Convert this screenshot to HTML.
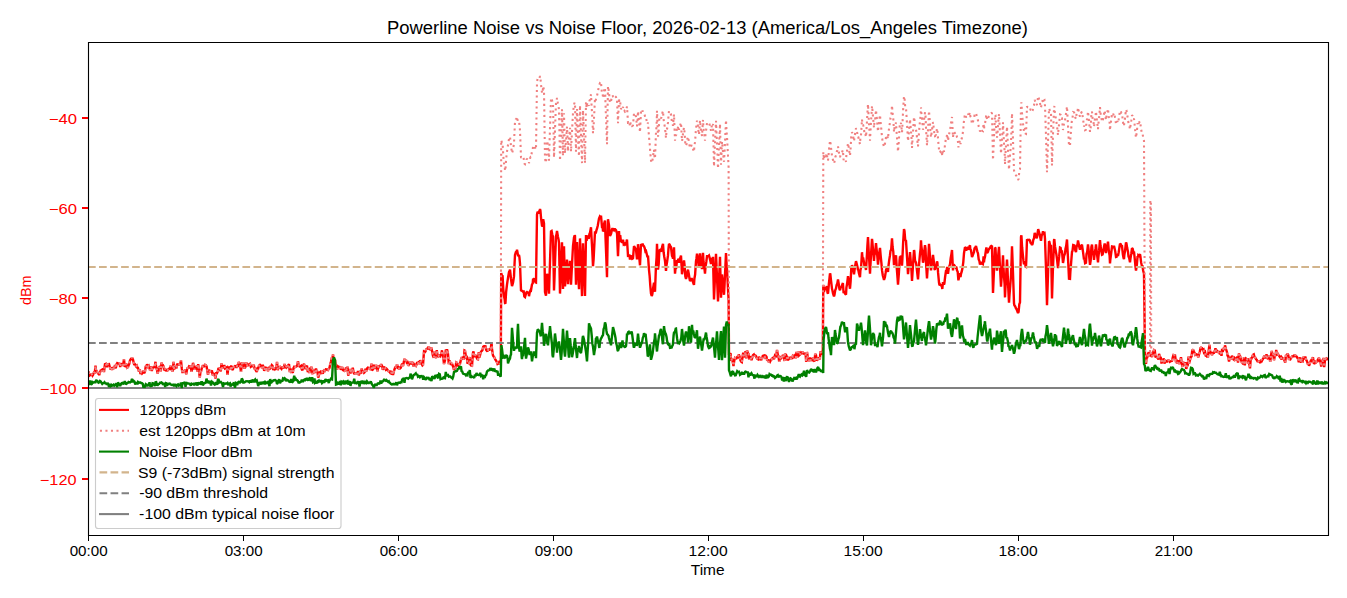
<!DOCTYPE html><html><head><meta charset="utf-8"><style>html,body{margin:0;padding:0;background:#fff;}svg{display:block;}</style></head><body><svg width="1347" height="598" viewBox="0 0 1347 598">
<rect x="0" y="0" width="1347" height="598" fill="#ffffff"/>
<defs><clipPath id="ax"><rect x="88.5" y="42.5" width="1240.0" height="493.0"/></clipPath></defs>
<g clip-path="url(#ax)" fill="none" stroke-linejoin="miter" stroke-miterlimit="2">
<path d="M88.0 373.4L88.8 372.9L89.5 375.6L90.2 375.1L91.0 374.2L91.8 374.3L92.5 375.7L93.0 375.0L94.0 372.4L94.8 372.5L95.5 365.5L96.2 372.4L97.0 371.6L98.0 373.4L98.5 373.4L99.2 375.1L100.0 372.3L101.0 369.8L101.5 371.5L102.2 369.7L103.0 368.6L104.0 372.0L104.5 367.7L105.0 364.2L106.0 363.8L106.8 367.1L107.5 364.3L108.2 364.1L109.0 364.0L110.0 367.7L110.5 369.5L111.2 367.3L112.0 370.0L112.8 367.2L113.5 368.0L114.2 368.8L115.0 365.1L115.8 368.3L116.5 364.4L117.2 363.1L118.0 363.6L119.0 363.6L119.5 363.0L120.2 367.0L121.0 363.5L121.8 364.5L122.5 364.5L123.0 365.7L124.0 359.3L124.8 367.0L125.5 365.8L126.2 363.6L127.0 367.7L128.0 367.1L128.5 365.5L129.2 364.2L130.0 360.5L130.8 359.2L131.5 358.7L132.0 357.5L133.0 359.7L134.0 363.9L134.5 363.7L135.2 364.4L136.0 366.2L136.8 365.6L137.5 367.9L138.0 368.0L139.0 371.7L139.8 369.1L140.5 374.1L141.0 372.1L142.0 373.6L142.8 372.7L143.5 370.6L144.2 373.2L145.0 371.4L145.8 365.9L146.5 366.6L147.0 364.2L148.0 366.7L148.8 365.8L149.5 367.8L150.0 370.2L151.0 366.1L151.8 371.0L152.5 367.7L153.0 367.7L154.0 367.2L154.8 366.5L155.5 361.8L156.2 367.4L157.0 369.9L157.8 373.7L158.5 368.0L159.2 367.2L160.0 366.2L160.8 371.4L161.5 362.5L162.0 365.8L163.0 365.3L163.8 366.9L164.5 370.5L165.2 368.5L166.0 371.1L166.8 370.1L167.5 370.4L168.2 369.3L169.0 368.7L170.0 368.9L170.5 365.8L171.2 368.3L172.0 370.4L172.8 371.3L173.5 361.9L174.2 369.5L175.0 365.2L175.8 366.9L176.5 368.3L177.2 363.6L178.0 364.7L178.8 364.7L179.5 364.5L180.0 365.0L181.0 360.4L181.8 368.7L182.5 373.1L183.0 370.9L184.0 371.1L184.8 370.6L185.5 371.6L186.2 374.3L187.0 369.5L187.8 367.3L188.5 368.3L189.2 366.1L190.0 366.3L190.8 366.9L191.5 371.8L192.2 368.9L193.0 362.8L193.8 366.2L194.5 369.7L195.0 367.7L196.0 368.0L196.8 365.6L197.5 371.5L198.2 364.1L199.0 370.9L199.8 377.6L200.5 371.0L201.2 370.8L202.0 367.3L203.0 365.3L203.5 366.2L204.2 366.2L205.0 364.8L205.8 365.2L206.5 366.2L207.0 368.7L208.0 374.7L208.8 370.0L209.5 370.7L210.2 371.4L211.0 371.0L212.0 371.3L212.5 374.5L213.2 374.9L214.0 373.8L215.0 374.4L215.5 378.5L216.2 372.4L217.0 373.0L217.8 371.5L218.5 367.9L219.2 369.0L220.0 368.2L220.8 371.5L221.5 363.3L222.2 368.6L223.0 366.5L223.8 365.9L224.5 365.9L225.0 368.3L226.0 367.7L226.8 367.2L227.5 374.9L228.2 368.3L229.0 367.4L230.0 368.2L230.5 369.1L231.2 365.5L232.0 369.0L232.8 370.0L233.5 367.1L234.2 366.7L235.0 366.1L235.8 366.3L236.5 367.8L237.2 366.0L238.0 366.7L238.8 361.9L239.5 364.6L240.0 365.4L241.0 371.9L241.8 362.3L242.5 365.3L243.2 362.2L244.0 367.8L245.0 367.8L245.5 366.6L246.2 362.2L247.0 366.0L247.8 363.9L248.5 364.9L249.2 364.2L250.0 363.8L250.8 366.8L251.5 366.3L252.2 366.0L253.0 366.3L253.8 364.7L254.5 368.4L255.0 368.4L256.0 370.6L256.8 372.0L257.5 368.4L258.2 368.5L259.0 365.7L260.0 364.8L260.5 365.3L261.2 366.0L262.0 368.1L262.8 364.8L263.5 367.8L264.2 370.8L265.0 368.0L265.8 367.0L266.5 369.5L267.2 367.8L268.0 371.3L268.8 366.9L269.5 369.8L270.0 366.1L271.0 367.0L271.8 365.1L272.5 365.8L273.2 370.0L274.0 367.6L275.0 369.2L275.5 368.6L276.2 368.6L277.0 361.9L277.8 370.1L278.5 367.3L279.2 367.3L280.0 366.8L280.8 368.1L281.5 368.9L282.2 367.3L283.0 367.1L283.8 368.3L284.5 364.0L285.0 366.7L286.0 367.5L286.8 365.4L287.5 368.0L288.2 365.2L289.0 364.2L289.8 372.1L290.5 368.5L291.2 371.7L292.0 371.3L292.8 372.9L293.5 368.1L294.2 366.8L295.0 367.1L296.0 366.6L296.5 366.4L297.2 365.9L298.0 361.2L298.8 365.9L299.5 366.4L300.0 366.6L301.0 365.8L301.8 369.4L302.5 370.4L303.2 365.3L304.0 363.8L305.0 367.2L305.5 369.1L306.2 367.0L307.0 365.7L307.8 372.2L308.5 369.4L309.2 373.1L310.0 368.8L310.8 367.8L311.5 367.8L312.2 374.2L313.0 369.1L313.8 373.1L314.5 370.5L315.0 373.0L316.0 368.5L316.8 371.8L317.5 371.9L318.2 377.6L319.0 375.0L320.0 372.2L320.5 371.8L321.2 372.7L322.0 371.9L322.8 373.7L323.5 371.5L324.2 370.4L325.0 370.8L325.8 369.3L326.5 369.5L327.2 369.4L328.0 370.0L329.0 368.6L329.5 367.8L330.2 364.2L331.0 361.6L331.8 358.0L332.5 357.9L333.0 354.4L334.0 362.9L335.0 359.9L335.5 364.8L336.0 367.5L337.0 369.6L337.8 366.3L338.5 366.8L339.2 366.9L340.0 367.1L340.8 369.5L341.5 368.6L342.2 367.0L343.0 370.0L343.8 370.3L344.5 370.9L345.0 371.5L346.0 367.5L346.8 370.8L347.5 366.7L348.2 375.7L349.0 370.9L350.0 369.4L350.5 373.5L351.2 369.0L352.0 370.8L352.8 367.8L353.5 371.9L354.2 374.0L355.0 372.7L355.8 374.6L356.5 372.8L357.2 374.5L358.0 370.9L358.8 375.4L359.5 373.5L360.0 371.1L361.0 372.0L361.8 368.4L362.5 372.8L363.2 371.0L364.0 372.8L365.0 371.9L365.5 368.8L366.2 371.5L367.0 368.5L367.8 367.6L368.5 367.9L369.0 368.2L370.0 369.0L370.8 367.9L371.5 363.6L372.0 370.4L373.0 369.2L373.8 365.8L374.5 364.9L375.0 369.0L376.0 365.3L376.8 366.3L377.5 371.3L378.2 366.5L379.0 366.9L380.0 365.3L380.5 366.5L381.2 364.2L382.0 365.8L382.8 369.7L383.5 368.2L384.2 367.3L385.0 367.8L385.8 369.6L386.5 368.8L387.2 369.6L388.0 370.8L388.8 371.4L389.5 371.7L390.0 372.4L391.0 371.0L391.8 374.7L392.5 372.2L393.0 375.0L394.0 370.9L395.0 367.8L395.5 366.6L396.2 367.9L397.0 364.3L397.8 367.1L398.5 366.4L399.2 369.4L400.0 368.3L400.8 367.8L401.5 365.5L402.2 363.6L403.0 366.0L403.8 361.9L404.5 358.8L405.0 361.1L406.0 359.9L406.8 362.5L407.5 362.2L408.2 365.9L409.0 364.2L410.0 362.0L410.5 364.6L411.2 361.2L412.0 364.6L413.0 362.0L413.5 366.5L414.2 364.2L415.0 364.6L416.0 365.8L416.5 364.7L417.2 362.1L418.0 363.5L419.0 361.3L419.5 364.4L420.2 360.1L421.0 363.0L421.8 364.1L422.5 365.4L423.0 365.0L424.0 351.6L424.8 352.1L425.5 351.3L426.2 349.3L427.0 348.9L427.8 347.9L428.5 349.2L429.0 346.8L430.0 349.9L430.8 349.0L431.5 348.7L432.0 350.7L433.0 355.8L433.8 357.7L434.5 351.6L435.2 355.7L436.0 358.2L436.8 350.1L437.5 355.9L438.2 356.4L439.0 355.4L440.0 356.2L440.5 354.9L441.2 354.7L442.0 350.3L442.8 356.4L443.5 359.6L444.0 364.0L445.0 360.4L445.8 349.5L446.5 351.4L447.0 349.3L448.0 353.9L448.8 364.1L449.5 360.7L450.0 361.6L451.0 364.9L451.8 363.0L452.5 365.2L453.0 366.1L454.0 370.0L455.0 367.8L455.5 368.3L456.2 362.4L457.0 362.8L457.8 365.5L458.5 365.5L459.0 364.5L460.0 363.8L460.8 360.2L461.5 358.3L462.0 358.6L463.0 357.0L463.8 359.7L464.5 350.5L465.0 350.8L466.0 357.2L466.8 357.0L467.5 363.7L468.0 362.7L469.0 363.7L469.8 357.0L470.5 364.7L471.0 365.5L472.0 365.7L473.0 352.7L473.5 351.5L474.2 357.0L475.0 354.7L476.0 356.0L476.5 357.1L477.2 359.0L478.0 359.3L478.8 352.2L479.5 357.4L480.2 354.4L481.0 351.6L481.8 351.0L482.5 350.0L483.2 346.7L484.0 346.2L484.8 346.2L485.5 346.3L486.2 349.9L487.0 351.0L487.8 350.8L488.5 348.9L489.2 350.3L490.0 349.0L490.8 348.9L491.5 342.4L492.0 348.9L493.0 355.6L494.0 356.9L494.5 357.5L495.2 359.4L496.0 360.4L497.0 362.4L497.5 363.9L498.2 363.5L499.0 362.3L499.8 363.7L500.5 364.1L500.8 363.4L501.2 273.0L502.0 275.9L502.6 276.1L503.3 289.3L504.0 296.0L504.7 299.6L505.0 303.1L505.4 303.8L506.1 292.2L507.0 284.7L507.5 281.1L508.2 276.7L509.0 272.0L509.6 270.7L510.0 269.7L511.0 279.0L511.7 284.1L512.0 286.2L512.4 284.9L513.1 282.2L514.0 276.4L514.5 264.7L515.0 255.0L515.9 252.1L516.6 251.7L517.0 249.7L518.0 255.3L518.7 255.3L519.0 255.0L519.4 257.2L520.0 263.5L521.0 290.3L521.5 290.7L522.2 290.9L523.0 291.7L523.6 290.5L524.3 296.5L525.0 297.1L525.7 294.6L526.4 292.5L527.0 292.0L527.8 292.6L528.5 292.6L529.0 296.2L529.9 291.6L530.6 290.0L531.0 290.3L532.0 284.4L532.7 283.4L533.0 279.6L533.4 279.6L534.1 278.5L535.0 280.7L535.5 282.3L536.0 282.5L537.0 214.7L537.6 211.7L538.3 212.5L539.0 211.9L539.7 210.1L540.0 209.0L540.4 210.5L541.1 218.6L542.0 225.7L542.5 226.2L543.2 219.2L544.0 223.4L544.6 265.1L545.0 292.0L546.0 295.8L546.7 282.2L547.0 273.8L547.4 275.3L548.0 278.8L549.0 293.6L549.5 277.2L550.2 255.5L551.0 231.4L551.6 231.0L552.3 234.6L553.0 236.6L553.7 272.1L554.0 290.4L554.4 280.8L555.1 259.8L556.0 236.1L556.5 234.4L557.0 230.9L557.9 236.5L558.6 239.8L559.0 242.8L560.0 293.6L560.7 275.8L561.4 255.3L562.0 242.2L563.0 288.9L563.5 265.4L564.0 246.3L565.0 286.4L565.6 278.3L566.3 270.6L567.0 259.5L567.7 275.3L568.0 284.3L568.4 277.5L569.1 269.5L570.0 260.8L570.5 272.9L571.0 284.6L571.9 266.6L572.6 253.5L573.0 246.0L574.0 237.4L574.7 235.4L575.0 235.8L575.4 257.4L576.0 284.7L577.0 242.1L577.5 254.4L578.2 272.8L579.0 289.3L579.6 257.9L580.0 238.4L581.0 267.0L581.7 286.6L582.0 296.1L582.4 275.1L583.0 243.3L583.8 263.8L584.5 282.7L585.0 295.9L586.0 235.0L586.6 240.9L587.3 235.5L588.0 236.9L588.7 238.9L589.4 234.1L590.0 232.6L591.0 227.3L591.5 237.0L592.2 248.9L593.0 266.2L593.6 259.5L594.3 245.4L595.0 231.4L595.7 233.4L596.4 230.4L597.0 228.7L597.8 225.5L598.5 221.4L599.0 218.5L599.9 216.3L600.6 217.0L601.0 215.6L602.0 227.1L602.7 227.1L603.0 231.3L603.4 230.7L604.1 223.7L605.0 220.5L605.5 237.2L606.2 255.3L607.0 277.3L607.6 240.8L608.0 219.2L609.0 225.2L609.7 233.6L610.0 235.9L610.4 235.2L611.1 233.6L612.0 229.4L612.5 228.4L613.2 229.8L613.9 230.3L614.6 228.5L615.0 229.2L616.0 230.1L616.7 232.4L617.0 232.2L617.4 242.4L618.0 256.3L619.0 231.0L619.5 239.4L620.2 235.2L621.0 242.1L621.6 241.4L622.3 242.5L623.0 239.8L623.7 244.3L624.4 243.8L625.0 244.7L625.8 244.0L626.5 241.6L627.0 239.5L628.0 255.8L628.6 255.7L629.3 254.5L630.0 259.6L630.7 255.3L631.0 256.6L631.4 257.7L632.1 258.9L633.0 258.3L633.5 252.1L634.0 246.0L634.9 247.5L635.6 248.8L636.0 249.6L637.0 259.3L637.7 251.8L638.0 244.2L638.4 248.9L639.1 255.7L640.0 265.3L640.5 254.4L641.0 244.0L641.9 245.6L642.6 243.7L643.3 245.8L644.0 246.3L644.7 248.1L645.4 251.4L646.0 251.0L646.8 254.3L647.5 257.1L648.0 255.6L649.0 269.8L649.6 275.5L650.3 285.7L651.0 293.5L651.7 295.8L652.0 295.4L652.4 293.8L653.1 288.2L654.0 282.7L654.5 289.6L655.0 291.8L655.9 267.4L656.6 257.1L657.0 243.7L658.0 269.7L658.7 263.8L659.4 250.3L660.0 249.9L661.0 251.5L661.5 250.2L662.2 246.5L663.0 243.9L663.6 252.3L664.3 257.0L665.0 260.8L665.7 267.9L666.0 271.0L666.4 265.7L667.1 261.8L668.0 255.4L668.5 248.7L669.0 243.8L669.9 245.0L670.6 246.7L671.0 247.3L672.0 255.8L672.7 257.1L673.0 258.9L673.4 253.9L674.0 247.3L675.0 273.6L675.5 268.7L676.2 267.9L677.0 260.2L677.6 261.8L678.3 258.9L679.0 262.7L679.7 258.7L680.4 257.8L681.0 255.6L682.0 274.2L682.5 271.2L683.2 264.8L684.0 260.4L684.6 265.7L685.3 276.4L686.0 278.9L686.7 276.5L687.4 271.8L688.0 269.6L688.8 274.0L689.5 278.5L690.0 281.0L690.9 279.7L691.6 278.0L692.0 279.4L693.0 282.0L693.7 284.0L694.0 284.8L694.4 278.7L695.1 274.6L696.0 261.1L696.5 258.2L697.0 253.6L697.9 258.7L698.6 265.5L699.0 267.7L700.0 253.3L700.7 261.2L701.4 265.0L702.0 269.1L703.0 252.7L703.5 261.7L704.2 266.2L705.0 273.7L705.6 266.0L706.3 262.0L707.0 256.1L707.7 256.1L708.4 256.1L709.0 255.5L709.8 258.4L710.5 261.6L711.0 263.9L711.9 257.9L712.6 259.1L713.0 256.9L714.0 299.4L714.7 283.9L715.4 266.8L716.0 253.8L716.8 272.4L717.5 289.3L718.0 301.5L718.9 280.6L719.6 266.7L720.0 256.8L721.0 297.7L721.7 281.0L722.0 274.5L722.4 277.8L723.1 286.5L724.0 294.8L724.5 285.8L725.2 270.3L726.0 253.0L726.6 264.5L727.0 269.5L728.0 288.7L728.6 300.0L729.0 354.0L730.0 354.1L730.5 353.0L731.2 360.8L732.0 358.7L733.0 363.3L733.5 366.0L734.2 361.0L735.0 358.0L735.8 358.5L736.5 358.4L737.2 357.1L738.0 357.3L738.8 354.5L739.5 356.3L740.2 359.7L741.0 361.5L741.8 362.1L742.5 357.4L743.2 352.7L744.0 357.1L744.8 356.0L745.5 351.3L746.2 358.4L747.0 350.3L748.0 353.7L748.5 353.9L749.2 359.8L750.0 356.5L751.0 358.0L751.5 360.3L752.2 357.7L753.0 355.2L753.8 354.5L754.5 356.7L755.0 354.9L756.0 356.2L756.8 358.2L757.5 359.0L758.2 359.3L759.0 357.0L760.0 358.3L760.5 360.3L761.2 358.7L762.0 358.9L762.8 355.9L763.5 355.6L764.2 355.4L765.0 357.1L765.8 356.0L766.5 356.8L767.2 360.7L768.0 359.2L768.8 362.1L769.5 361.1L770.0 361.7L771.0 359.7L771.8 359.3L772.5 358.0L773.2 357.6L774.0 359.1L775.0 355.3L775.5 355.7L776.2 356.1L777.0 350.0L777.8 354.7L778.5 356.0L779.2 361.8L780.0 357.1L780.8 359.3L781.5 356.1L782.2 357.7L783.0 354.8L783.8 357.4L784.5 360.9L785.0 353.9L786.0 354.7L786.8 356.6L787.5 360.5L788.2 357.1L789.0 358.9L790.0 358.0L790.5 359.1L791.2 357.3L792.0 358.9L792.8 356.1L793.5 356.8L794.2 355.8L795.0 357.3L795.8 357.3L796.5 351.8L797.2 357.5L798.0 355.6L798.8 351.5L799.5 355.0L800.0 354.6L801.0 352.8L801.8 353.9L802.5 351.7L803.2 353.2L804.0 353.7L805.0 353.6L805.5 353.0L806.2 361.9L807.0 352.0L807.8 357.3L808.5 359.7L809.0 361.2L810.0 357.6L810.8 360.7L811.5 359.5L812.2 359.9L813.0 357.7L814.0 360.7L814.5 361.5L815.2 353.9L816.0 355.2L816.8 360.7L817.5 358.9L818.0 359.8L819.0 357.4L819.8 359.4L820.5 351.3L821.0 352.3L822.0 353.5L822.8 352.0L823.3 284.9L824.0 292.2L824.7 287.3L825.4 289.1L826.0 288.7L826.8 286.2L827.5 292.6L828.0 293.6L828.9 283.6L829.6 277.2L830.0 273.5L830.3 274.0L831.0 280.4L832.0 288.8L832.4 290.2L833.1 293.6L834.0 296.4L834.5 294.8L835.2 290.3L836.0 288.4L836.6 285.0L837.3 283.5L838.0 279.4L838.7 283.6L839.4 288.9L840.0 290.1L840.8 287.4L841.5 286.8L842.0 285.4L842.9 283.0L843.6 293.1L844.0 291.9L844.3 291.9L845.0 293.5L846.0 294.7L846.4 287.6L847.1 283.8L848.0 276.1L848.5 278.9L849.2 283.7L850.0 288.7L850.6 281.7L851.3 268.2L852.0 265.2L852.7 266.9L853.4 270.8L854.0 274.3L854.8 268.2L855.5 264.0L856.0 261.1L856.9 264.6L857.6 267.5L858.0 270.1L858.3 269.8L859.0 273.5L860.0 277.2L860.4 270.5L861.1 267.2L862.0 252.2L862.5 257.9L863.2 258.2L864.0 262.5L864.6 267.2L865.3 266.6L866.0 270.0L866.7 258.9L867.4 245.8L868.0 237.1L868.8 253.0L869.5 264.9L870.0 273.6L870.9 256.4L871.6 245.7L872.0 238.9L872.3 241.4L873.0 249.6L874.0 260.9L874.4 255.3L875.1 253.1L876.0 243.0L876.5 248.4L877.2 254.9L878.0 264.6L878.6 259.2L879.3 252.7L880.0 247.9L880.7 256.0L881.4 262.8L882.0 270.2L882.8 275.5L883.5 277.9L884.0 279.9L884.9 277.1L885.6 272.9L886.0 270.1L886.3 269.3L887.0 268.1L888.0 271.9L888.4 266.7L889.1 260.9L890.0 255.2L890.5 250.8L891.2 249.6L892.0 238.4L892.6 247.0L893.3 251.8L894.0 265.1L894.7 259.3L895.4 257.8L896.0 255.4L896.8 268.4L897.5 277.5L898.0 284.7L898.9 272.8L899.6 260.1L900.0 256.5L900.3 257.3L901.0 255.9L902.0 265.6L902.4 259.0L903.1 243.2L904.0 229.2L904.5 230.9L905.2 239.8L906.0 240.7L906.6 250.4L907.3 261.8L908.0 274.1L908.7 267.1L909.4 259.8L910.0 252.1L910.8 261.9L911.5 270.8L912.0 281.0L912.9 266.6L913.6 255.8L914.0 250.0L914.3 251.0L915.0 260.4L916.0 262.7L916.4 265.0L917.1 271.6L918.0 279.3L918.5 273.0L919.2 262.6L920.0 253.6L920.6 248.7L921.0 240.2L921.3 245.3L922.0 250.8L923.0 262.6L923.4 261.2L924.1 252.6L925.0 245.2L925.5 248.3L926.2 265.5L927.0 278.5L927.6 268.8L928.3 257.6L929.0 243.9L929.7 252.3L930.4 263.9L931.0 270.4L931.8 264.4L932.5 259.3L933.0 255.0L933.9 262.1L934.6 269.3L935.0 270.0L935.3 266.1L936.0 268.4L937.0 261.3L937.4 262.8L938.1 272.9L939.0 282.5L939.5 285.4L940.2 284.6L941.0 285.7L941.6 284.2L942.3 289.0L943.0 282.2L944.0 284.6L944.4 283.2L945.1 277.0L946.0 270.8L946.5 270.6L947.2 266.9L948.0 273.8L948.6 269.3L949.3 266.3L950.0 264.3L950.7 258.2L951.4 254.1L952.0 250.0L953.0 270.5L953.5 265.3L954.2 265.1L955.0 266.3L955.6 267.3L956.3 266.6L957.0 270.4L957.7 271.8L958.4 280.3L959.0 277.6L959.8 273.3L960.5 277.0L961.0 273.8L961.9 270.9L962.6 267.2L963.0 264.4L963.3 262.1L964.0 253.2L965.0 247.1L965.4 247.6L966.1 250.5L967.0 248.4L967.5 248.7L968.2 246.8L968.9 249.6L969.6 245.9L970.0 245.4L970.3 249.2L971.0 250.3L972.0 257.0L972.4 256.3L973.1 254.4L974.0 251.9L974.5 248.3L975.2 247.7L976.0 246.0L976.6 248.5L977.3 251.3L978.0 253.5L978.7 259.5L979.4 261.0L980.0 264.6L980.8 262.0L981.5 263.3L982.0 263.7L982.9 264.1L983.6 256.4L984.0 262.4L984.3 259.5L985.0 256.8L986.0 249.6L986.4 247.5L987.1 253.0L988.0 251.8L988.5 250.0L989.2 248.7L990.0 248.0L990.6 246.5L991.3 246.0L992.0 246.4L993.0 293.0L993.4 283.8L994.1 268.0L995.0 247.6L995.5 248.2L996.2 263.0L997.0 270.6L997.6 265.3L998.3 254.4L999.0 246.9L999.7 261.5L1000.4 275.0L1001.0 286.7L1001.8 274.9L1002.5 265.0L1003.0 255.4L1003.9 275.5L1004.6 283.8L1005.0 297.4L1005.3 291.0L1006.0 278.1L1007.0 259.6L1007.4 266.5L1008.1 284.9L1009.0 302.7L1009.5 294.8L1010.2 286.3L1011.0 275.7L1011.6 259.8L1012.0 246.4L1012.3 254.1L1013.0 273.1L1014.0 303.3L1014.4 305.4L1015.1 306.1L1016.0 308.5L1016.5 309.0L1017.2 310.8L1018.0 313.0L1018.6 311.9L1019.3 304.3L1020.0 302.4L1021.0 236.9L1021.4 235.4L1022.1 247.2L1023.0 256.4L1023.5 261.0L1024.0 264.4L1024.9 261.1L1025.6 266.6L1026.0 266.8L1026.3 260.0L1027.0 239.4L1027.7 240.2L1028.4 239.9L1029.1 239.8L1030.0 240.5L1030.5 242.8L1031.2 243.2L1032.0 245.1L1032.6 243.8L1033.3 239.8L1034.0 238.3L1034.7 232.9L1035.4 235.1L1036.0 237.0L1036.8 238.2L1037.5 233.7L1038.2 229.2L1039.0 232.0L1039.6 234.1L1040.3 237.6L1041.0 240.8L1041.7 235.3L1042.4 234.3L1043.0 231.3L1043.8 233.5L1044.5 233.1L1045.0 238.9L1045.9 265.5L1046.6 289.5L1047.0 305.2L1047.3 295.8L1048.0 274.6L1049.0 241.4L1049.4 241.8L1050.1 245.2L1051.0 245.9L1051.5 272.1L1052.0 298.5L1052.9 269.3L1053.6 253.3L1054.0 240.2L1054.3 239.1L1055.0 246.4L1056.0 252.4L1056.4 254.6L1057.1 259.8L1058.0 268.1L1058.5 262.2L1059.2 256.2L1060.0 247.5L1060.6 247.8L1061.3 251.6L1062.0 251.5L1063.0 263.0L1063.4 260.8L1064.1 255.7L1065.0 253.5L1065.5 248.8L1066.2 245.8L1067.0 239.5L1067.6 251.1L1068.3 264.0L1069.0 278.7L1070.0 278.9L1070.4 271.3L1071.1 263.0L1072.0 251.8L1072.5 250.9L1073.2 245.1L1074.0 245.3L1074.6 246.6L1075.3 250.5L1076.0 252.0L1076.7 245.6L1077.4 245.5L1078.0 240.5L1078.8 244.5L1079.5 248.0L1080.0 249.8L1080.9 246.5L1081.6 245.2L1082.0 244.7L1082.3 247.1L1083.0 251.7L1084.0 259.5L1084.4 258.6L1085.1 263.2L1086.0 262.7L1086.5 254.0L1087.2 251.9L1088.0 244.4L1088.6 249.6L1089.3 257.6L1090.0 264.8L1090.7 260.3L1091.4 246.9L1092.0 244.5L1092.8 253.8L1093.5 254.9L1094.0 259.8L1094.9 251.9L1095.6 248.2L1096.0 244.3L1096.3 247.6L1097.0 254.2L1098.0 262.3L1098.4 257.0L1099.1 250.7L1100.0 240.2L1100.5 245.8L1101.2 250.0L1102.0 254.7L1102.6 254.4L1103.3 250.7L1104.0 246.8L1104.7 243.5L1105.4 249.2L1106.0 253.1L1106.8 246.1L1107.5 244.4L1108.0 241.7L1108.9 251.5L1109.6 255.6L1110.0 263.4L1110.3 259.8L1111.0 254.5L1112.0 246.5L1112.4 246.6L1113.1 248.1L1114.0 245.9L1114.5 248.0L1115.2 251.1L1116.0 257.0L1116.6 256.8L1117.3 254.1L1118.0 256.0L1118.7 252.2L1119.4 247.5L1120.0 243.6L1120.8 244.3L1121.5 246.0L1122.0 246.1L1122.9 254.5L1123.6 258.1L1124.0 259.2L1124.3 255.3L1125.0 251.1L1126.0 242.5L1126.4 243.2L1127.1 247.6L1128.0 251.9L1128.5 256.4L1129.2 258.0L1130.0 262.4L1130.6 257.7L1131.3 253.5L1132.0 248.2L1132.7 248.9L1133.4 252.2L1134.0 251.7L1134.8 259.3L1135.5 266.8L1136.0 270.7L1136.9 264.3L1137.6 256.1L1138.0 257.6L1138.3 255.2L1139.0 255.7L1140.0 254.2L1140.4 256.5L1141.1 262.4L1142.0 266.4L1142.5 266.3L1143.2 270.7L1144.0 273.8L1145.0 355.9L1146.0 363.9L1146.5 358.1L1147.2 357.6L1148.0 353.7L1148.8 352.4L1149.5 355.3L1150.0 355.4L1151.0 355.1L1152.0 356.9L1152.5 354.4L1153.2 352.2L1154.0 350.0L1154.8 350.5L1155.5 357.4L1156.2 356.6L1157.0 357.3L1157.8 357.0L1158.5 359.7L1159.0 353.8L1160.0 356.7L1160.8 357.7L1161.5 363.5L1162.0 361.2L1163.0 360.5L1163.8 358.5L1164.5 363.7L1165.0 360.5L1166.0 360.9L1166.8 362.2L1167.5 360.8L1168.0 360.5L1169.0 360.7L1169.8 361.8L1170.5 361.3L1171.0 361.2L1172.0 360.9L1172.8 357.3L1173.5 355.0L1174.0 355.1L1175.0 355.2L1175.8 360.7L1176.5 360.4L1177.0 363.5L1178.0 360.5L1178.8 362.4L1179.5 363.9L1180.0 362.6L1181.0 357.2L1181.8 363.9L1182.5 366.9L1183.2 361.7L1184.0 365.1L1185.0 363.5L1185.5 362.1L1186.2 368.8L1187.0 366.5L1187.8 365.0L1188.5 356.5L1189.0 363.6L1190.0 359.9L1191.0 356.4L1191.5 357.1L1192.2 350.6L1193.0 349.3L1193.8 351.5L1194.5 352.8L1195.2 354.8L1196.0 354.2L1196.8 354.6L1197.5 354.5L1198.2 357.4L1199.0 354.4L1199.8 351.8L1200.5 348.0L1201.0 347.7L1202.0 348.2L1202.8 349.9L1203.5 349.5L1204.0 352.6L1205.0 351.8L1205.8 356.3L1206.5 355.6L1207.0 356.6L1208.0 356.6L1209.0 348.1L1209.5 344.8L1210.2 352.5L1211.0 352.6L1212.0 355.0L1212.5 353.8L1213.2 352.8L1214.0 352.8L1215.0 350.1L1215.5 348.2L1216.2 352.4L1217.0 350.8L1218.0 351.8L1218.5 352.4L1219.2 351.1L1220.0 353.4L1220.8 353.0L1221.5 355.8L1222.0 350.3L1223.0 350.7L1223.8 347.8L1224.5 350.0L1225.0 345.4L1226.0 349.0L1227.0 352.2L1227.5 355.5L1228.2 356.0L1229.0 361.6L1229.8 356.8L1230.5 358.6L1231.2 359.3L1232.0 355.7L1232.8 357.4L1233.5 359.0L1234.2 358.1L1235.0 360.0L1235.8 359.5L1236.5 357.9L1237.2 356.8L1238.0 362.5L1239.0 353.5L1239.5 355.7L1240.2 356.4L1241.0 359.8L1242.0 363.0L1242.5 362.3L1243.2 364.4L1244.0 357.1L1244.8 365.3L1245.5 360.3L1246.0 358.6L1247.0 359.5L1247.8 358.3L1248.5 363.5L1249.0 362.6L1250.0 368.3L1250.8 357.9L1251.5 358.5L1252.2 356.9L1253.0 354.9L1253.8 354.4L1254.5 357.1L1255.2 357.4L1256.0 359.0L1256.8 359.9L1257.5 361.3L1258.2 361.3L1259.0 361.3L1260.0 362.4L1260.5 362.3L1261.2 359.4L1262.0 360.6L1262.8 359.2L1263.5 358.0L1264.0 356.4L1265.0 356.4L1265.8 358.4L1266.5 354.3L1267.2 357.9L1268.0 358.9L1268.8 355.5L1269.5 357.3L1270.2 361.8L1271.0 355.5L1271.8 351.0L1272.5 354.6L1273.2 353.8L1274.0 360.2L1275.0 354.7L1275.5 356.2L1276.2 349.9L1277.0 355.3L1277.8 353.9L1278.5 355.0L1279.0 355.6L1280.0 357.2L1280.8 356.7L1281.5 359.6L1282.2 357.8L1283.0 358.6L1283.8 358.5L1284.5 360.6L1285.2 362.7L1286.0 354.8L1287.0 356.1L1287.5 353.6L1288.2 354.9L1289.0 359.8L1289.8 358.4L1290.5 359.1L1291.0 358.2L1292.0 356.5L1292.8 356.5L1293.5 355.8L1294.2 356.1L1295.0 354.7L1295.8 356.2L1296.5 356.5L1297.2 357.5L1298.0 358.8L1298.8 362.3L1299.5 359.2L1300.2 357.5L1301.0 362.7L1301.8 358.6L1302.5 362.9L1303.2 356.8L1304.0 358.5L1305.0 357.5L1305.5 357.5L1306.2 359.9L1307.0 361.2L1307.8 363.8L1308.5 363.8L1309.0 365.8L1310.0 363.0L1310.8 360.8L1311.5 360.9L1312.0 359.0L1313.0 357.3L1313.8 363.1L1314.5 363.3L1315.2 361.8L1316.0 362.3L1316.8 361.0L1317.5 361.1L1318.2 359.3L1319.0 357.9L1319.8 361.2L1320.5 361.8L1321.2 366.6L1322.0 360.0L1323.0 361.5L1323.5 357.8L1324.2 367.2L1325.0 359.8L1326.0 358.8L1326.5 359.9L1327.2 358.7L1328.0 359.0" stroke="#ff0000" stroke-width="2.4" stroke-linecap="square"/>
<path d="M88.0 373.4L88.8 372.9L89.5 375.6L90.2 375.1L91.0 374.2L91.8 374.3L92.5 375.7L93.0 375.0L94.0 372.4L94.8 372.5L95.5 365.5L96.2 372.4L97.0 371.6L98.0 373.4L98.5 373.4L99.2 375.1L100.0 372.3L101.0 369.8L101.5 371.5L102.2 369.7L103.0 368.6L104.0 372.0L104.5 367.7L105.0 364.2L106.0 363.8L106.8 367.1L107.5 364.3L108.2 364.1L109.0 364.0L110.0 367.7L110.5 369.5L111.2 367.3L112.0 370.0L112.8 367.2L113.5 368.0L114.2 368.8L115.0 365.1L115.8 368.3L116.5 364.4L117.2 363.1L118.0 363.6L119.0 363.6L119.5 363.0L120.2 367.0L121.0 363.5L121.8 364.5L122.5 364.5L123.0 365.7L124.0 359.3L124.8 367.0L125.5 365.8L126.2 363.6L127.0 367.7L128.0 367.1L128.5 365.5L129.2 364.2L130.0 360.5L130.8 359.2L131.5 358.7L132.0 357.5L133.0 359.7L134.0 363.9L134.5 363.7L135.2 364.4L136.0 366.2L136.8 365.6L137.5 367.9L138.0 368.0L139.0 371.7L139.8 369.1L140.5 374.1L141.0 372.1L142.0 373.6L142.8 372.7L143.5 370.6L144.2 373.2L145.0 371.4L145.8 365.9L146.5 366.6L147.0 364.2L148.0 366.7L148.8 365.8L149.5 367.8L150.0 370.2L151.0 366.1L151.8 371.0L152.5 367.7L153.0 367.7L154.0 367.2L154.8 366.5L155.5 361.8L156.2 367.4L157.0 369.9L157.8 373.7L158.5 368.0L159.2 367.2L160.0 366.2L160.8 371.4L161.5 362.5L162.0 365.8L163.0 365.3L163.8 366.9L164.5 370.5L165.2 368.5L166.0 371.1L166.8 370.1L167.5 370.4L168.2 369.3L169.0 368.7L170.0 368.9L170.5 365.8L171.2 368.3L172.0 370.4L172.8 371.3L173.5 361.9L174.2 369.5L175.0 365.2L175.8 366.9L176.5 368.3L177.2 363.6L178.0 364.7L178.8 364.7L179.5 364.5L180.0 365.0L181.0 360.4L181.8 368.7L182.5 373.1L183.0 370.9L184.0 371.1L184.8 370.6L185.5 371.6L186.2 374.3L187.0 369.5L187.8 367.3L188.5 368.3L189.2 366.1L190.0 366.3L190.8 366.9L191.5 371.8L192.2 368.9L193.0 362.8L193.8 366.2L194.5 369.7L195.0 367.7L196.0 368.0L196.8 365.6L197.5 371.5L198.2 364.1L199.0 370.9L199.8 377.6L200.5 371.0L201.2 370.8L202.0 367.3L203.0 365.3L203.5 366.2L204.2 366.2L205.0 364.8L205.8 365.2L206.5 366.2L207.0 368.7L208.0 374.7L208.8 370.0L209.5 370.7L210.2 371.4L211.0 371.0L212.0 371.3L212.5 374.5L213.2 374.9L214.0 373.8L215.0 374.4L215.5 378.5L216.2 372.4L217.0 373.0L217.8 371.5L218.5 367.9L219.2 369.0L220.0 368.2L220.8 371.5L221.5 363.3L222.2 368.6L223.0 366.5L223.8 365.9L224.5 365.9L225.0 368.3L226.0 367.7L226.8 367.2L227.5 374.9L228.2 368.3L229.0 367.4L230.0 368.2L230.5 369.1L231.2 365.5L232.0 369.0L232.8 370.0L233.5 367.1L234.2 366.7L235.0 366.1L235.8 366.3L236.5 367.8L237.2 366.0L238.0 366.7L238.8 361.9L239.5 364.6L240.0 365.4L241.0 371.9L241.8 362.3L242.5 365.3L243.2 362.2L244.0 367.8L245.0 367.8L245.5 366.6L246.2 362.2L247.0 366.0L247.8 363.9L248.5 364.9L249.2 364.2L250.0 363.8L250.8 366.8L251.5 366.3L252.2 366.0L253.0 366.3L253.8 364.7L254.5 368.4L255.0 368.4L256.0 370.6L256.8 372.0L257.5 368.4L258.2 368.5L259.0 365.7L260.0 364.8L260.5 365.3L261.2 366.0L262.0 368.1L262.8 364.8L263.5 367.8L264.2 370.8L265.0 368.0L265.8 367.0L266.5 369.5L267.2 367.8L268.0 371.3L268.8 366.9L269.5 369.8L270.0 366.1L271.0 367.0L271.8 365.1L272.5 365.8L273.2 370.0L274.0 367.6L275.0 369.2L275.5 368.6L276.2 368.6L277.0 361.9L277.8 370.1L278.5 367.3L279.2 367.3L280.0 366.8L280.8 368.1L281.5 368.9L282.2 367.3L283.0 367.1L283.8 368.3L284.5 364.0L285.0 366.7L286.0 367.5L286.8 365.4L287.5 368.0L288.2 365.2L289.0 364.2L289.8 372.1L290.5 368.5L291.2 371.7L292.0 371.3L292.8 372.9L293.5 368.1L294.2 366.8L295.0 367.1L296.0 366.6L296.5 366.4L297.2 365.9L298.0 361.2L298.8 365.9L299.5 366.4L300.0 366.6L301.0 365.8L301.8 369.4L302.5 370.4L303.2 365.3L304.0 363.8L305.0 367.2L305.5 369.1L306.2 367.0L307.0 365.7L307.8 372.2L308.5 369.4L309.2 373.1L310.0 368.8L310.8 367.8L311.5 367.8L312.2 374.2L313.0 369.1L313.8 373.1L314.5 370.5L315.0 373.0L316.0 368.5L316.8 371.8L317.5 371.9L318.2 377.6L319.0 375.0L320.0 372.2L320.5 371.8L321.2 372.7L322.0 371.9L322.8 373.7L323.5 371.5L324.2 370.4L325.0 370.8L325.8 369.3L326.5 369.5L327.2 369.4L328.0 370.0L329.0 368.6L329.5 367.8L330.2 364.2L331.0 361.6L331.8 358.0L332.5 357.9L333.0 354.4L334.0 362.9L335.0 359.9L335.5 364.8L336.0 367.5L337.0 369.6L337.8 366.3L338.5 366.8L339.2 366.9L340.0 367.1L340.8 369.5L341.5 368.6L342.2 367.0L343.0 370.0L343.8 370.3L344.5 370.9L345.0 371.5L346.0 367.5L346.8 370.8L347.5 366.7L348.2 375.7L349.0 370.9L350.0 369.4L350.5 373.5L351.2 369.0L352.0 370.8L352.8 367.8L353.5 371.9L354.2 374.0L355.0 372.7L355.8 374.6L356.5 372.8L357.2 374.5L358.0 370.9L358.8 375.4L359.5 373.5L360.0 371.1L361.0 372.0L361.8 368.4L362.5 372.8L363.2 371.0L364.0 372.8L365.0 371.9L365.5 368.8L366.2 371.5L367.0 368.5L367.8 367.6L368.5 367.9L369.0 368.2L370.0 369.0L370.8 367.9L371.5 363.6L372.0 370.4L373.0 369.2L373.8 365.8L374.5 364.9L375.0 369.0L376.0 365.3L376.8 366.3L377.5 371.3L378.2 366.5L379.0 366.9L380.0 365.3L380.5 366.5L381.2 364.2L382.0 365.8L382.8 369.7L383.5 368.2L384.2 367.3L385.0 367.8L385.8 369.6L386.5 368.8L387.2 369.6L388.0 370.8L388.8 371.4L389.5 371.7L390.0 372.4L391.0 371.0L391.8 374.7L392.5 372.2L393.0 375.0L394.0 370.9L395.0 367.8L395.5 366.6L396.2 367.9L397.0 364.3L397.8 367.1L398.5 366.4L399.2 369.4L400.0 368.3L400.8 367.8L401.5 365.5L402.2 363.6L403.0 366.0L403.8 361.9L404.5 358.8L405.0 361.1L406.0 359.9L406.8 362.5L407.5 362.2L408.2 365.9L409.0 364.2L410.0 362.0L410.5 364.6L411.2 361.2L412.0 364.6L413.0 362.0L413.5 366.5L414.2 364.2L415.0 364.6L416.0 365.8L416.5 364.7L417.2 362.1L418.0 363.5L419.0 361.3L419.5 364.4L420.2 360.1L421.0 363.0L421.8 364.1L422.5 365.4L423.0 365.0L424.0 351.6L424.8 352.1L425.5 351.3L426.2 349.3L427.0 348.9L427.8 347.9L428.5 349.2L429.0 346.8L430.0 349.9L430.8 349.0L431.5 348.7L432.0 350.7L433.0 355.8L433.8 357.7L434.5 351.6L435.2 355.7L436.0 358.2L436.8 350.1L437.5 355.9L438.2 356.4L439.0 355.4L440.0 356.2L440.5 354.9L441.2 354.7L442.0 350.3L442.8 356.4L443.5 359.6L444.0 364.0L445.0 360.4L445.8 349.5L446.5 351.4L447.0 349.3L448.0 353.9L448.8 364.1L449.5 360.7L450.0 361.6L451.0 364.9L451.8 363.0L452.5 365.2L453.0 366.1L454.0 370.0L455.0 367.8L455.5 368.3L456.2 362.4L457.0 362.8L457.8 365.5L458.5 365.5L459.0 364.5L460.0 363.8L460.8 360.2L461.5 358.3L462.0 358.6L463.0 357.0L463.8 359.7L464.5 350.5L465.0 350.8L466.0 357.2L466.8 357.0L467.5 363.7L468.0 362.7L469.0 363.7L469.8 357.0L470.5 364.7L471.0 365.5L472.0 365.7L473.0 352.7L473.5 351.5L474.2 357.0L475.0 354.7L476.0 356.0L476.5 357.1L477.2 359.0L478.0 359.3L478.8 352.2L479.5 357.4L480.2 354.4L481.0 351.6L481.8 351.0L482.5 350.0L483.2 346.7L484.0 346.2L484.8 346.2L485.5 346.3L486.2 349.9L487.0 351.0L487.8 350.8L488.5 348.9L489.2 350.3L490.0 349.0L490.8 348.9L491.5 342.4L492.0 348.9L493.0 355.6L494.0 356.9L494.5 357.5L495.2 359.4L496.0 360.4L497.0 362.4L497.5 363.9L498.2 363.5L499.0 362.3L499.8 363.7L500.5 364.1L500.8 363.4L501.2 140.0L502.0 142.9L502.6 143.1L503.3 156.3L504.0 163.0L504.7 166.6L505.0 170.1L505.4 170.8L506.1 159.2L507.0 151.7L507.5 148.1L508.2 143.7L509.0 139.0L509.6 137.7L510.0 136.7L511.0 146.0L511.7 151.1L512.0 153.2L512.4 151.9L513.1 149.2L514.0 143.4L514.5 131.7L515.0 122.0L515.9 119.1L516.6 118.7L517.0 116.7L518.0 122.3L518.7 122.3L519.0 122.0L519.4 124.2L520.0 130.5L521.0 157.3L521.5 157.7L522.2 157.9L523.0 158.7L523.6 157.5L524.3 163.5L525.0 164.1L525.7 161.6L526.4 159.5L527.0 159.0L527.8 159.6L528.5 159.6L529.0 163.2L529.9 158.6L530.6 157.0L531.0 157.3L532.0 151.4L532.7 150.4L533.0 146.6L533.4 146.6L534.1 145.5L535.0 147.7L535.5 149.3L536.0 149.5L537.0 81.7L537.6 78.7L538.3 79.5L539.0 78.9L539.7 77.1L540.0 76.0L540.4 77.5L541.1 85.6L542.0 92.7L542.5 93.2L543.2 86.2L544.0 90.4L544.6 132.1L545.0 159.0L546.0 162.8L546.7 149.2L547.0 140.8L547.4 142.3L548.0 145.8L549.0 160.6L549.5 144.2L550.2 122.5L551.0 98.4L551.6 98.0L552.3 101.6L553.0 103.6L553.7 139.1L554.0 157.4L554.4 147.8L555.1 126.8L556.0 103.1L556.5 101.4L557.0 97.9L557.9 103.5L558.6 106.8L559.0 109.8L560.0 160.6L560.7 142.8L561.4 122.3L562.0 109.2L563.0 155.9L563.5 132.4L564.0 113.3L565.0 153.4L565.6 145.3L566.3 137.6L567.0 126.5L567.7 142.3L568.0 151.3L568.4 144.5L569.1 136.5L570.0 127.8L570.5 139.9L571.0 151.6L571.9 133.6L572.6 120.5L573.0 113.0L574.0 104.4L574.7 102.4L575.0 102.8L575.4 124.4L576.0 151.7L577.0 109.1L577.5 121.4L578.2 139.8L579.0 156.3L579.6 124.9L580.0 105.4L581.0 134.0L581.7 153.6L582.0 163.1L582.4 142.1L583.0 110.3L583.8 130.8L584.5 149.7L585.0 162.9L586.0 102.0L586.6 107.9L587.3 102.5L588.0 103.9L588.7 105.9L589.4 101.1L590.0 99.6L591.0 94.3L591.5 104.0L592.2 115.9L593.0 133.2L593.6 126.5L594.3 112.4L595.0 98.4L595.7 100.4L596.4 97.4L597.0 95.7L597.8 92.5L598.5 88.4L599.0 85.5L599.9 83.3L600.6 84.0L601.0 82.6L602.0 94.1L602.7 94.1L603.0 98.3L603.4 97.7L604.1 90.7L605.0 87.5L605.5 104.2L606.2 122.3L607.0 144.3L607.6 107.8L608.0 86.2L609.0 92.2L609.7 100.6L610.0 102.9L610.4 102.2L611.1 100.6L612.0 96.4L612.5 95.4L613.2 96.8L613.9 97.3L614.6 95.5L615.0 96.2L616.0 97.1L616.7 99.4L617.0 99.2L617.4 109.4L618.0 123.3L619.0 98.0L619.5 106.4L620.2 102.2L621.0 109.1L621.6 108.4L622.3 109.5L623.0 106.8L623.7 111.3L624.4 110.8L625.0 111.7L625.8 111.0L626.5 108.6L627.0 106.5L628.0 122.8L628.6 122.7L629.3 121.5L630.0 126.6L630.7 122.3L631.0 123.6L631.4 124.7L632.1 125.9L633.0 125.3L633.5 119.1L634.0 113.0L634.9 114.5L635.6 115.8L636.0 116.6L637.0 126.3L637.7 118.8L638.0 111.2L638.4 115.9L639.1 122.7L640.0 132.3L640.5 121.4L641.0 111.0L641.9 112.6L642.6 110.7L643.3 112.8L644.0 113.3L644.7 115.1L645.4 118.4L646.0 118.0L646.8 121.3L647.5 124.1L648.0 122.6L649.0 136.8L649.6 142.5L650.3 152.7L651.0 160.5L651.7 162.8L652.0 162.4L652.4 160.8L653.1 155.2L654.0 149.7L654.5 156.6L655.0 158.8L655.9 134.4L656.6 124.1L657.0 110.7L658.0 136.7L658.7 130.8L659.4 117.3L660.0 116.9L661.0 118.5L661.5 117.2L662.2 113.5L663.0 110.9L663.6 119.3L664.3 124.0L665.0 127.8L665.7 134.9L666.0 138.0L666.4 132.7L667.1 128.8L668.0 122.4L668.5 115.7L669.0 110.8L669.9 112.0L670.6 113.7L671.0 114.3L672.0 122.8L672.7 124.1L673.0 125.9L673.4 120.9L674.0 114.3L675.0 140.6L675.5 135.7L676.2 134.9L677.0 127.2L677.6 128.8L678.3 125.9L679.0 129.7L679.7 125.7L680.4 124.8L681.0 122.6L682.0 141.2L682.5 138.2L683.2 131.8L684.0 127.4L684.6 132.7L685.3 143.4L686.0 145.9L686.7 143.5L687.4 138.8L688.0 136.6L688.8 141.0L689.5 145.5L690.0 148.0L690.9 146.7L691.6 145.0L692.0 146.4L693.0 149.0L693.7 151.0L694.0 151.8L694.4 145.7L695.1 141.6L696.0 128.1L696.5 125.2L697.0 120.6L697.9 125.7L698.6 132.5L699.0 134.7L700.0 120.3L700.7 128.2L701.4 132.0L702.0 136.1L703.0 119.7L703.5 128.7L704.2 133.2L705.0 140.7L705.6 133.0L706.3 129.0L707.0 123.1L707.7 123.1L708.4 123.1L709.0 122.5L709.8 125.4L710.5 128.6L711.0 130.9L711.9 124.9L712.6 126.1L713.0 123.9L714.0 166.4L714.7 150.9L715.4 133.8L716.0 120.8L716.8 139.4L717.5 156.3L718.0 168.5L718.9 147.6L719.6 133.7L720.0 123.8L721.0 164.7L721.7 148.0L722.0 141.5L722.4 144.8L723.1 153.5L724.0 161.8L724.5 152.8L725.2 137.3L726.0 120.0L726.6 131.5L727.0 136.5L728.0 155.7L728.6 167.0L729.0 354.0L730.0 354.1L730.5 353.0L731.2 360.8L732.0 358.7L733.0 363.3L733.5 366.0L734.2 361.0L735.0 358.0L735.8 358.5L736.5 358.4L737.2 357.1L738.0 357.3L738.8 354.5L739.5 356.3L740.2 359.7L741.0 361.5L741.8 362.1L742.5 357.4L743.2 352.7L744.0 357.1L744.8 356.0L745.5 351.3L746.2 358.4L747.0 350.3L748.0 353.7L748.5 353.9L749.2 359.8L750.0 356.5L751.0 358.0L751.5 360.3L752.2 357.7L753.0 355.2L753.8 354.5L754.5 356.7L755.0 354.9L756.0 356.2L756.8 358.2L757.5 359.0L758.2 359.3L759.0 357.0L760.0 358.3L760.5 360.3L761.2 358.7L762.0 358.9L762.8 355.9L763.5 355.6L764.2 355.4L765.0 357.1L765.8 356.0L766.5 356.8L767.2 360.7L768.0 359.2L768.8 362.1L769.5 361.1L770.0 361.7L771.0 359.7L771.8 359.3L772.5 358.0L773.2 357.6L774.0 359.1L775.0 355.3L775.5 355.7L776.2 356.1L777.0 350.0L777.8 354.7L778.5 356.0L779.2 361.8L780.0 357.1L780.8 359.3L781.5 356.1L782.2 357.7L783.0 354.8L783.8 357.4L784.5 360.9L785.0 353.9L786.0 354.7L786.8 356.6L787.5 360.5L788.2 357.1L789.0 358.9L790.0 358.0L790.5 359.1L791.2 357.3L792.0 358.9L792.8 356.1L793.5 356.8L794.2 355.8L795.0 357.3L795.8 357.3L796.5 351.8L797.2 357.5L798.0 355.6L798.8 351.5L799.5 355.0L800.0 354.6L801.0 352.8L801.8 353.9L802.5 351.7L803.2 353.2L804.0 353.7L805.0 353.6L805.5 353.0L806.2 361.9L807.0 352.0L807.8 357.3L808.5 359.7L809.0 361.2L810.0 357.6L810.8 360.7L811.5 359.5L812.2 359.9L813.0 357.7L814.0 360.7L814.5 361.5L815.2 353.9L816.0 355.2L816.8 360.7L817.5 358.9L818.0 359.8L819.0 357.4L819.8 359.4L820.5 351.3L821.0 352.3L822.0 353.5L822.8 352.0L823.3 151.9L824.0 159.2L824.7 154.3L825.4 156.1L826.0 155.7L826.8 153.2L827.5 159.6L828.0 160.6L828.9 150.6L829.6 144.2L830.0 140.5L830.3 141.0L831.0 147.4L832.0 155.8L832.4 157.2L833.1 160.6L834.0 163.4L834.5 161.8L835.2 157.3L836.0 155.4L836.6 152.0L837.3 150.5L838.0 146.4L838.7 150.6L839.4 155.9L840.0 157.1L840.8 154.4L841.5 153.8L842.0 152.4L842.9 150.0L843.6 160.1L844.0 158.9L844.3 158.9L845.0 160.5L846.0 161.7L846.4 154.6L847.1 150.8L848.0 143.1L848.5 145.9L849.2 150.7L850.0 155.7L850.6 148.7L851.3 135.2L852.0 132.2L852.7 133.9L853.4 137.8L854.0 141.3L854.8 135.2L855.5 131.0L856.0 128.1L856.9 131.6L857.6 134.5L858.0 137.1L858.3 136.8L859.0 140.5L860.0 144.2L860.4 137.5L861.1 134.2L862.0 119.2L862.5 124.9L863.2 125.2L864.0 129.5L864.6 134.2L865.3 133.6L866.0 137.0L866.7 125.9L867.4 112.8L868.0 104.1L868.8 120.0L869.5 131.9L870.0 140.6L870.9 123.4L871.6 112.7L872.0 105.9L872.3 108.4L873.0 116.6L874.0 127.9L874.4 122.3L875.1 120.1L876.0 110.0L876.5 115.4L877.2 121.9L878.0 131.6L878.6 126.2L879.3 119.7L880.0 114.9L880.7 123.0L881.4 129.8L882.0 137.2L882.8 142.5L883.5 144.9L884.0 146.9L884.9 144.1L885.6 139.9L886.0 137.1L886.3 136.3L887.0 135.1L888.0 138.9L888.4 133.7L889.1 127.9L890.0 122.2L890.5 117.8L891.2 116.6L892.0 105.4L892.6 114.0L893.3 118.8L894.0 132.1L894.7 126.3L895.4 124.8L896.0 122.4L896.8 135.4L897.5 144.5L898.0 151.7L898.9 139.8L899.6 127.1L900.0 123.5L900.3 124.3L901.0 122.9L902.0 132.6L902.4 126.0L903.1 110.2L904.0 96.2L904.5 97.9L905.2 106.8L906.0 107.7L906.6 117.4L907.3 128.8L908.0 141.1L908.7 134.1L909.4 126.8L910.0 119.1L910.8 128.9L911.5 137.8L912.0 148.0L912.9 133.6L913.6 122.8L914.0 117.0L914.3 118.0L915.0 127.4L916.0 129.7L916.4 132.0L917.1 138.6L918.0 146.3L918.5 140.0L919.2 129.6L920.0 120.6L920.6 115.7L921.0 107.2L921.3 112.3L922.0 117.8L923.0 129.6L923.4 128.2L924.1 119.6L925.0 112.2L925.5 115.3L926.2 132.5L927.0 145.5L927.6 135.8L928.3 124.6L929.0 110.9L929.7 119.3L930.4 130.9L931.0 137.4L931.8 131.4L932.5 126.3L933.0 122.0L933.9 129.1L934.6 136.3L935.0 137.0L935.3 133.1L936.0 135.4L937.0 128.3L937.4 129.8L938.1 139.9L939.0 149.5L939.5 152.4L940.2 151.6L941.0 152.7L941.6 151.2L942.3 156.0L943.0 149.2L944.0 151.6L944.4 150.2L945.1 144.0L946.0 137.8L946.5 137.6L947.2 133.9L948.0 140.8L948.6 136.3L949.3 133.3L950.0 131.3L950.7 125.2L951.4 121.1L952.0 117.0L953.0 137.5L953.5 132.3L954.2 132.1L955.0 133.3L955.6 134.3L956.3 133.6L957.0 137.4L957.7 138.8L958.4 147.3L959.0 144.6L959.8 140.3L960.5 144.0L961.0 140.8L961.9 137.9L962.6 134.2L963.0 131.4L963.3 129.1L964.0 120.2L965.0 114.1L965.4 114.6L966.1 117.5L967.0 115.4L967.5 115.7L968.2 113.8L968.9 116.6L969.6 112.9L970.0 112.4L970.3 116.2L971.0 117.3L972.0 124.0L972.4 123.3L973.1 121.4L974.0 118.9L974.5 115.3L975.2 114.7L976.0 113.0L976.6 115.5L977.3 118.3L978.0 120.5L978.7 126.5L979.4 128.0L980.0 131.6L980.8 129.0L981.5 130.3L982.0 130.7L982.9 131.1L983.6 123.4L984.0 129.4L984.3 126.5L985.0 123.8L986.0 116.6L986.4 114.5L987.1 120.0L988.0 118.8L988.5 117.0L989.2 115.7L990.0 115.0L990.6 113.5L991.3 113.0L992.0 113.4L993.0 160.0L993.4 150.8L994.1 135.0L995.0 114.6L995.5 115.2L996.2 130.0L997.0 137.6L997.6 132.3L998.3 121.4L999.0 113.9L999.7 128.5L1000.4 142.0L1001.0 153.7L1001.8 141.9L1002.5 132.0L1003.0 122.4L1003.9 142.5L1004.6 150.8L1005.0 164.4L1005.3 158.0L1006.0 145.1L1007.0 126.6L1007.4 133.5L1008.1 151.9L1009.0 169.7L1009.5 161.8L1010.2 153.3L1011.0 142.7L1011.6 126.8L1012.0 113.4L1012.3 121.1L1013.0 140.1L1014.0 170.3L1014.4 172.4L1015.1 173.1L1016.0 175.5L1016.5 176.0L1017.2 177.8L1018.0 180.0L1018.6 178.9L1019.3 171.3L1020.0 169.4L1021.0 103.9L1021.4 102.4L1022.1 114.2L1023.0 123.4L1023.5 128.0L1024.0 131.4L1024.9 128.1L1025.6 133.6L1026.0 133.8L1026.3 127.0L1027.0 106.4L1027.7 107.2L1028.4 106.9L1029.1 106.8L1030.0 107.5L1030.5 109.8L1031.2 110.2L1032.0 112.1L1032.6 110.8L1033.3 106.8L1034.0 105.3L1034.7 99.9L1035.4 102.1L1036.0 104.0L1036.8 105.2L1037.5 100.7L1038.2 96.2L1039.0 99.0L1039.6 101.1L1040.3 104.6L1041.0 107.8L1041.7 102.3L1042.4 101.3L1043.0 98.3L1043.8 100.5L1044.5 100.1L1045.0 105.9L1045.9 132.5L1046.6 156.5L1047.0 172.2L1047.3 162.8L1048.0 141.6L1049.0 108.4L1049.4 108.8L1050.1 112.2L1051.0 112.9L1051.5 139.1L1052.0 165.5L1052.9 136.3L1053.6 120.3L1054.0 107.2L1054.3 106.1L1055.0 113.4L1056.0 119.4L1056.4 121.6L1057.1 126.8L1058.0 135.1L1058.5 129.2L1059.2 123.2L1060.0 114.5L1060.6 114.8L1061.3 118.6L1062.0 118.5L1063.0 130.0L1063.4 127.8L1064.1 122.7L1065.0 120.5L1065.5 115.8L1066.2 112.8L1067.0 106.5L1067.6 118.1L1068.3 131.0L1069.0 145.7L1070.0 145.9L1070.4 138.3L1071.1 130.0L1072.0 118.8L1072.5 117.9L1073.2 112.1L1074.0 112.3L1074.6 113.6L1075.3 117.5L1076.0 119.0L1076.7 112.6L1077.4 112.5L1078.0 107.5L1078.8 111.5L1079.5 115.0L1080.0 116.8L1080.9 113.5L1081.6 112.2L1082.0 111.7L1082.3 114.1L1083.0 118.7L1084.0 126.5L1084.4 125.6L1085.1 130.2L1086.0 129.7L1086.5 121.0L1087.2 118.9L1088.0 111.4L1088.6 116.6L1089.3 124.6L1090.0 131.8L1090.7 127.3L1091.4 113.9L1092.0 111.5L1092.8 120.8L1093.5 121.9L1094.0 126.8L1094.9 118.9L1095.6 115.2L1096.0 111.3L1096.3 114.6L1097.0 121.2L1098.0 129.3L1098.4 124.0L1099.1 117.7L1100.0 107.2L1100.5 112.8L1101.2 117.0L1102.0 121.7L1102.6 121.4L1103.3 117.7L1104.0 113.8L1104.7 110.5L1105.4 116.2L1106.0 120.1L1106.8 113.1L1107.5 111.4L1108.0 108.7L1108.9 118.5L1109.6 122.6L1110.0 130.4L1110.3 126.8L1111.0 121.5L1112.0 113.5L1112.4 113.6L1113.1 115.1L1114.0 112.9L1114.5 115.0L1115.2 118.1L1116.0 124.0L1116.6 123.8L1117.3 121.1L1118.0 123.0L1118.7 119.2L1119.4 114.5L1120.0 110.6L1120.8 111.3L1121.5 113.0L1122.0 113.1L1122.9 121.5L1123.6 125.1L1124.0 126.2L1124.3 122.3L1125.0 118.1L1126.0 109.5L1126.4 110.2L1127.1 114.6L1128.0 118.9L1128.5 123.4L1129.2 125.0L1130.0 129.4L1130.6 124.7L1131.3 120.5L1132.0 115.2L1132.7 115.9L1133.4 119.2L1134.0 118.7L1134.8 126.3L1135.5 133.8L1136.0 137.7L1136.9 131.3L1137.6 123.1L1138.0 124.6L1138.3 122.2L1139.0 122.7L1140.0 121.2L1140.4 123.5L1141.1 129.4L1142.0 133.4L1142.5 133.3L1143.2 137.7L1144.0 140.8L1145.0 355.9L1146.0 363.9L1146.5 358.1L1147.2 357.6L1148.0 353.7L1148.8 352.4L1149.5 355.3L1150.0 355.4L1150.3 200.5L1150.9 200.5L1151.2 355.4L1152.0 356.9L1152.5 354.4L1153.2 352.2L1154.0 350.0L1154.8 350.5L1155.5 357.4L1156.2 356.6L1157.0 357.3L1157.8 357.0L1158.5 359.7L1159.0 353.8L1160.0 356.7L1160.8 357.7L1161.5 363.5L1162.0 361.2L1163.0 360.5L1163.8 358.5L1164.5 363.7L1165.0 360.5L1166.0 360.9L1166.8 362.2L1167.5 360.8L1168.0 360.5L1169.0 360.7L1169.8 361.8L1170.5 361.3L1171.0 361.2L1172.0 360.9L1172.8 357.3L1173.5 355.0L1174.0 355.1L1175.0 355.2L1175.8 360.7L1176.5 360.4L1177.0 363.5L1178.0 360.5L1178.8 362.4L1179.5 363.9L1180.0 362.6L1181.0 357.2L1181.8 363.9L1182.5 366.9L1183.2 361.7L1184.0 365.1L1185.0 363.5L1185.5 362.1L1186.2 368.8L1187.0 366.5L1187.8 365.0L1188.5 356.5L1189.0 363.6L1190.0 359.9L1191.0 356.4L1191.5 357.1L1192.2 350.6L1193.0 349.3L1193.8 351.5L1194.5 352.8L1195.2 354.8L1196.0 354.2L1196.8 354.6L1197.5 354.5L1198.2 357.4L1199.0 354.4L1199.8 351.8L1200.5 348.0L1201.0 347.7L1202.0 348.2L1202.8 349.9L1203.5 349.5L1204.0 352.6L1205.0 351.8L1205.8 356.3L1206.5 355.6L1207.0 356.6L1208.0 356.6L1209.0 348.1L1209.5 344.8L1210.2 352.5L1211.0 352.6L1212.0 355.0L1212.5 353.8L1213.2 352.8L1214.0 352.8L1215.0 350.1L1215.5 348.2L1216.2 352.4L1217.0 350.8L1218.0 351.8L1218.5 352.4L1219.2 351.1L1220.0 353.4L1220.8 353.0L1221.5 355.8L1222.0 350.3L1223.0 350.7L1223.8 347.8L1224.5 350.0L1225.0 345.4L1226.0 349.0L1227.0 352.2L1227.5 355.5L1228.2 356.0L1229.0 361.6L1229.8 356.8L1230.5 358.6L1231.2 359.3L1232.0 355.7L1232.8 357.4L1233.5 359.0L1234.2 358.1L1235.0 360.0L1235.8 359.5L1236.5 357.9L1237.2 356.8L1238.0 362.5L1239.0 353.5L1239.5 355.7L1240.2 356.4L1241.0 359.8L1242.0 363.0L1242.5 362.3L1243.2 364.4L1244.0 357.1L1244.8 365.3L1245.5 360.3L1246.0 358.6L1247.0 359.5L1247.8 358.3L1248.5 363.5L1249.0 362.6L1250.0 368.3L1250.8 357.9L1251.5 358.5L1252.2 356.9L1253.0 354.9L1253.8 354.4L1254.5 357.1L1255.2 357.4L1256.0 359.0L1256.8 359.9L1257.5 361.3L1258.2 361.3L1259.0 361.3L1260.0 362.4L1260.5 362.3L1261.2 359.4L1262.0 360.6L1262.8 359.2L1263.5 358.0L1264.0 356.4L1265.0 356.4L1265.8 358.4L1266.5 354.3L1267.2 357.9L1268.0 358.9L1268.8 355.5L1269.5 357.3L1270.2 361.8L1271.0 355.5L1271.8 351.0L1272.5 354.6L1273.2 353.8L1274.0 360.2L1275.0 354.7L1275.5 356.2L1276.2 349.9L1277.0 355.3L1277.8 353.9L1278.5 355.0L1279.0 355.6L1280.0 357.2L1280.8 356.7L1281.5 359.6L1282.2 357.8L1283.0 358.6L1283.8 358.5L1284.5 360.6L1285.2 362.7L1286.0 354.8L1287.0 356.1L1287.5 353.6L1288.2 354.9L1289.0 359.8L1289.8 358.4L1290.5 359.1L1291.0 358.2L1292.0 356.5L1292.8 356.5L1293.5 355.8L1294.2 356.1L1295.0 354.7L1295.8 356.2L1296.5 356.5L1297.2 357.5L1298.0 358.8L1298.8 362.3L1299.5 359.2L1300.2 357.5L1301.0 362.7L1301.8 358.6L1302.5 362.9L1303.2 356.8L1304.0 358.5L1305.0 357.5L1305.5 357.5L1306.2 359.9L1307.0 361.2L1307.8 363.8L1308.5 363.8L1309.0 365.8L1310.0 363.0L1310.8 360.8L1311.5 360.9L1312.0 359.0L1313.0 357.3L1313.8 363.1L1314.5 363.3L1315.2 361.8L1316.0 362.3L1316.8 361.0L1317.5 361.1L1318.2 359.3L1319.0 357.9L1319.8 361.2L1320.5 361.8L1321.2 366.6L1322.0 360.0L1323.0 361.5L1323.5 357.8L1324.2 367.2L1325.0 359.8L1326.0 358.8L1326.5 359.9L1327.2 358.7L1328.0 359.0" stroke="#f08080" stroke-width="2.08" stroke-dasharray="2.08 3.44" stroke-linecap="butt"/>
<line x1="88" y1="267" x2="1328.5" y2="267" stroke="#d2b48c" stroke-width="2.08" stroke-dasharray="7.7 3.33"/>
<line x1="88" y1="343" x2="1328.5" y2="343" stroke="#808080" stroke-width="2.08" stroke-dasharray="7.7 3.33"/>
<line x1="88.5" y1="388" x2="1328.5" y2="388" stroke="#808080" stroke-width="2.08"/>
<path d="M88.0 383.6L88.8 384.1L89.5 383.1L90.2 380.6L91.0 384.7L91.8 384.0L92.5 382.1L93.2 382.6L94.0 382.4L94.8 382.1L95.5 382.2L96.2 379.9L97.0 380.9L97.8 381.6L98.5 382.7L99.2 382.4L100.0 381.0L100.8 381.5L101.5 382.9L102.2 383.9L103.0 383.1L103.8 383.1L104.5 382.3L105.0 383.1L106.0 383.3L106.8 384.5L107.5 382.9L108.2 384.0L109.0 387.0L109.8 385.4L110.5 386.1L111.2 384.8L112.0 385.6L113.0 384.9L113.5 384.6L114.2 385.6L115.0 384.8L115.8 384.2L116.5 384.9L117.2 387.2L118.0 382.4L118.8 384.0L119.5 384.5L120.2 386.0L121.0 383.9L121.8 383.0L122.5 382.8L123.2 383.8L124.0 383.4L124.8 381.3L125.5 382.9L126.0 384.4L127.0 383.1L127.8 382.9L128.5 382.0L129.2 382.3L130.0 382.4L131.0 381.7L131.5 380.5L132.0 379.0L133.0 382.0L133.8 381.0L134.5 381.6L135.2 384.6L136.0 382.2L136.8 383.2L137.5 383.5L138.0 382.0L139.0 382.8L139.8 382.4L140.5 382.5L141.2 383.1L142.0 383.2L142.8 383.9L143.5 387.9L144.2 385.3L145.0 386.2L145.8 384.2L146.5 384.7L147.0 386.1L148.0 384.9L148.8 385.2L149.5 382.3L150.2 386.6L151.0 385.7L151.8 385.7L152.5 383.2L153.2 383.3L154.0 384.3L154.8 385.9L155.5 382.3L156.2 382.2L157.0 384.9L157.8 385.0L158.5 384.1L159.2 383.9L160.0 382.7L160.8 382.7L161.5 382.4L162.2 382.9L163.0 384.9L163.8 383.6L164.5 383.6L165.2 387.1L166.0 383.1L166.8 383.4L167.5 384.8L168.2 384.3L169.0 383.7L169.8 383.5L170.5 384.4L171.2 384.6L172.0 384.9L172.8 384.8L173.5 384.6L174.2 386.4L175.0 384.1L175.8 385.3L176.5 386.1L177.2 384.8L178.0 384.3L178.8 385.6L179.5 385.1L180.0 385.3L181.0 382.7L181.8 388.1L182.5 382.4L183.2 383.4L184.0 383.1L184.8 381.8L185.5 386.8L186.2 382.5L187.0 383.2L187.8 383.5L188.5 383.5L189.2 383.6L190.0 384.2L190.8 385.5L191.5 383.7L192.2 384.1L193.0 384.0L193.8 384.5L194.5 382.9L195.2 385.2L196.0 382.6L196.8 384.3L197.5 385.3L198.2 383.2L199.0 383.1L200.0 383.9L200.5 384.0L201.2 382.2L202.0 382.2L202.8 385.2L203.5 384.4L204.2 383.0L205.0 383.1L205.8 382.5L206.5 378.6L207.2 382.0L208.0 381.6L208.8 383.3L209.5 381.1L210.2 382.0L211.0 385.4L212.0 381.8L212.5 382.3L213.2 382.5L214.0 383.9L214.8 384.7L215.5 384.1L216.2 382.2L217.0 384.9L217.8 379.9L218.5 379.0L219.2 382.6L220.0 382.1L220.8 381.9L221.5 382.8L222.2 383.7L223.0 386.9L223.8 383.4L224.5 383.7L225.2 383.7L226.0 383.4L226.8 383.6L227.5 383.0L228.2 384.4L229.0 383.9L230.0 383.4L230.5 386.5L231.2 384.5L232.0 384.5L232.8 384.8L233.5 383.3L234.2 383.5L235.0 387.8L235.8 382.8L236.5 383.1L237.2 385.1L238.0 382.4L238.8 381.7L239.5 381.8L240.0 382.5L241.0 381.7L241.8 378.5L242.5 379.5L243.2 382.5L244.0 382.5L244.8 382.3L245.5 381.5L246.2 381.2L247.0 381.4L247.8 381.3L248.5 381.5L249.2 382.1L250.0 380.4L250.8 382.7L251.5 380.0L252.2 380.9L253.0 379.5L253.8 382.3L254.5 380.4L255.2 379.5L256.0 381.1L256.8 380.5L257.5 382.8L258.2 386.1L259.0 383.4L260.0 382.8L260.5 382.8L261.2 384.4L262.0 381.8L262.8 383.9L263.5 382.7L264.2 382.2L265.0 384.4L265.8 382.2L266.5 382.8L267.2 382.9L268.0 382.0L268.8 383.6L269.5 386.2L270.2 379.1L271.0 383.2L271.8 381.1L272.5 381.3L273.2 380.6L274.0 380.2L275.0 380.0L275.5 381.1L276.2 380.0L277.0 384.0L277.8 382.8L278.5 381.1L279.2 379.2L280.0 383.2L280.8 381.7L281.5 380.3L282.2 381.8L283.0 378.5L283.8 379.1L284.5 378.2L285.0 378.6L286.0 381.1L286.8 379.7L287.5 380.0L288.2 380.4L289.0 381.5L290.0 382.0L290.5 382.5L291.2 379.0L292.0 382.6L292.8 381.7L293.5 379.5L294.2 375.8L295.0 379.6L295.8 378.9L296.5 380.1L297.2 380.2L298.0 381.2L298.8 383.2L299.5 381.6L300.0 382.4L301.0 381.8L301.8 379.6L302.5 381.4L303.2 381.4L304.0 379.9L305.0 379.3L305.5 380.0L306.2 379.5L307.0 378.0L307.8 380.0L308.5 379.9L309.2 378.8L310.0 377.5L310.8 380.9L311.5 380.1L312.2 377.3L313.0 382.3L313.8 381.9L314.5 378.5L315.0 382.9L316.0 382.3L316.8 383.3L317.5 381.3L318.2 381.8L319.0 380.7L320.0 382.2L320.5 381.0L321.2 381.0L322.0 383.1L322.8 382.3L323.5 380.3L324.2 382.9L325.0 380.4L325.8 379.2L326.5 380.8L327.2 380.5L328.0 380.3L328.8 383.1L329.5 379.6L330.0 380.1L331.0 378.6L332.0 379.2L332.5 370.0L333.0 359.9L334.0 357.5L335.0 359.9L335.5 371.2L336.0 384.6L337.0 384.3L337.8 383.0L338.5 383.7L339.2 383.7L340.0 381.1L340.8 385.2L341.5 381.7L342.2 382.1L343.0 381.5L343.8 384.3L344.5 382.8L345.0 380.9L346.0 382.9L346.8 381.7L347.5 381.2L348.2 384.4L349.0 382.6L349.8 381.1L350.5 385.9L351.2 382.6L352.0 382.8L352.8 382.5L353.5 382.4L354.2 378.6L355.0 383.1L355.8 383.1L356.5 383.3L357.2 382.4L358.0 383.4L358.8 381.2L359.5 386.6L360.2 383.2L361.0 381.9L361.8 382.5L362.5 380.8L363.2 382.2L364.0 383.8L365.0 382.0L365.5 382.8L366.2 383.1L367.0 381.3L367.8 382.3L368.5 383.8L369.2 381.9L370.0 383.2L370.8 381.3L371.5 383.3L372.0 384.6L373.0 385.4L373.8 388.0L374.5 385.5L375.2 384.6L376.0 385.0L376.8 385.0L377.5 383.7L378.2 383.3L379.0 383.6L380.0 383.1L380.5 380.6L381.2 383.4L382.0 381.7L382.8 381.4L383.5 380.7L384.2 379.1L385.0 380.4L385.8 380.8L386.5 380.1L387.2 381.0L388.0 381.7L388.8 381.2L389.5 382.8L390.0 382.9L391.0 384.1L391.8 384.4L392.5 384.3L393.2 383.9L394.0 384.3L395.0 384.3L395.5 383.8L396.2 382.2L397.0 385.3L397.8 382.9L398.5 382.7L399.2 382.6L400.0 382.9L400.8 382.2L401.5 382.2L402.2 379.5L403.0 378.9L403.8 377.9L404.5 382.8L405.0 378.5L406.0 378.1L406.8 378.0L407.5 378.3L408.2 378.7L409.0 377.8L410.0 377.4L410.5 373.7L411.2 375.4L412.0 379.2L412.8 377.1L413.5 375.2L414.2 374.7L415.0 374.2L415.8 373.4L416.5 375.1L417.2 374.0L418.0 376.8L418.8 376.4L419.5 376.2L420.0 377.2L421.0 376.2L421.8 376.0L422.5 376.8L423.2 379.7L424.0 377.2L425.0 378.3L425.5 379.2L426.2 379.1L427.0 377.8L427.8 378.1L428.5 377.9L429.2 379.0L430.0 377.9L430.8 379.7L431.5 381.0L432.2 376.3L433.0 377.0L433.8 377.5L434.5 379.1L435.2 375.9L436.0 375.8L437.0 375.4L437.5 377.4L438.2 378.1L439.0 373.9L439.8 374.3L440.5 379.0L441.2 378.6L442.0 378.7L442.8 378.5L443.5 377.4L444.2 377.9L445.0 378.2L445.8 371.9L446.5 376.2L447.0 375.3L448.0 375.0L448.8 376.6L449.5 376.2L450.2 376.3L451.0 377.4L452.0 378.0L452.5 378.5L453.2 376.7L454.0 372.1L455.0 371.5L455.5 371.1L456.2 371.2L457.0 370.9L458.0 368.6L458.5 369.3L459.2 367.3L460.0 367.5L461.0 366.4L461.5 371.0L462.2 371.3L463.0 373.6L463.8 373.9L464.5 374.1L465.2 374.3L466.0 375.4L466.8 374.6L467.5 375.1L468.2 371.8L469.0 373.0L469.8 370.0L470.5 378.0L471.2 375.9L472.0 376.6L473.0 377.0L473.5 377.2L474.2 378.1L475.0 374.6L475.8 376.2L476.5 372.9L477.2 374.6L478.0 374.8L478.8 375.0L479.5 375.0L480.2 372.8L481.0 376.0L482.0 375.3L482.5 375.8L483.2 379.3L484.0 376.3L485.0 376.8L485.5 375.5L486.2 374.8L487.0 371.5L488.0 370.8L488.5 369.6L489.2 370.9L490.0 368.9L491.0 368.8L491.5 369.7L492.2 369.3L493.0 370.3L493.8 369.2L494.5 369.3L495.0 371.0L496.0 371.2L496.8 371.6L497.5 370.8L498.0 374.6L499.0 374.5L499.8 375.2L500.5 376.8L500.8 375.2L501.4 345.1L502.0 348.8L503.0 357.6L503.5 357.4L504.2 356.4L505.0 357.5L505.6 357.1L506.3 355.5L507.0 355.8L507.7 358.7L508.0 363.3L508.4 362.1L509.1 360.2L510.0 358.6L510.5 355.4L511.0 354.6L512.0 327.9L512.6 334.8L513.3 345.0L514.0 350.9L514.7 346.8L515.4 348.7L516.0 347.5L517.0 347.5L517.5 332.8L518.0 323.8L519.0 347.5L519.6 351.5L520.3 349.7L521.0 346.3L521.7 357.3L522.0 359.0L522.4 355.4L523.1 356.1L524.0 347.5L524.5 342.6L525.0 337.8L526.0 358.6L526.6 355.5L527.3 350.7L528.0 347.4L528.7 349.4L529.4 354.0L530.0 354.0L531.0 351.3L531.5 356.0L532.0 361.3L532.9 355.5L533.6 355.0L534.0 351.3L535.0 354.5L535.7 354.9L536.0 358.2L536.4 347.1L537.0 332.7L537.8 329.3L538.5 330.1L539.0 330.8L539.9 332.4L540.6 335.3L541.0 335.2L542.0 322.9L542.7 331.4L543.4 334.9L544.0 345.8L544.8 339.2L545.5 336.2L546.0 333.8L546.9 341.1L547.6 343.3L548.0 345.4L549.0 334.7L549.7 330.3L550.0 326.0L550.4 330.3L551.1 336.5L552.0 344.7L552.5 355.2L553.0 357.3L553.9 348.2L554.6 338.3L555.0 333.5L556.0 342.2L556.7 347.8L557.0 352.8L557.4 345.3L558.1 347.2L559.0 341.5L559.5 346.2L560.2 351.7L561.0 359.9L561.6 353.5L562.3 341.3L563.0 328.9L563.7 339.1L564.4 351.7L565.0 356.7L565.8 346.9L566.5 338.1L567.0 330.5L567.9 342.6L568.6 354.4L569.0 357.7L570.0 338.0L570.7 345.2L571.4 350.7L572.0 357.2L572.8 353.4L573.5 348.7L574.0 345.7L575.0 338.1L575.6 345.5L576.3 351.7L577.0 358.0L577.7 349.6L578.4 350.0L579.0 346.0L579.8 351.1L580.5 352.3L581.0 353.0L581.9 346.9L582.6 338.1L583.0 335.9L584.0 339.6L584.7 344.5L585.0 345.1L585.4 348.0L586.1 352.8L587.0 361.5L587.5 352.6L588.2 342.8L589.0 323.2L589.6 325.6L590.3 327.0L591.0 328.6L591.7 335.3L592.4 343.9L593.0 346.6L594.0 355.2L594.5 351.6L595.2 347.8L595.9 338.7L596.6 338.1L597.0 336.4L598.0 341.7L598.7 343.3L599.0 346.3L599.4 348.0L600.1 341.3L601.0 338.4L601.5 337.9L602.2 336.2L603.0 335.1L603.6 329.1L604.3 327.4L605.0 322.4L605.7 324.6L606.4 330.5L607.0 333.9L607.8 334.8L608.5 335.8L609.0 338.1L609.9 341.3L610.6 343.1L611.0 345.4L612.0 336.1L612.7 330.2L613.0 327.2L613.4 328.5L614.1 331.3L615.0 335.3L615.5 337.9L616.0 342.6L616.9 345.8L617.6 350.4L618.0 351.0L619.0 347.6L619.7 344.3L620.0 344.1L620.4 345.7L621.1 348.0L621.8 345.2L622.5 340.4L623.0 345.3L623.9 346.2L624.6 346.9L625.3 346.8L626.0 346.0L626.7 339.8L627.0 333.6L627.4 334.9L628.1 332.3L628.8 331.8L629.5 333.2L630.0 333.3L630.9 332.8L631.6 331.5L632.0 333.1L633.0 341.0L633.7 346.9L634.0 347.7L634.4 346.4L635.1 343.9L635.8 344.2L636.5 344.8L637.0 344.9L638.0 333.6L638.6 339.2L639.3 343.4L640.0 347.7L640.7 345.7L641.4 343.3L642.0 342.7L642.8 337.9L643.5 336.2L644.0 333.2L644.9 334.9L645.6 333.8L646.0 337.8L647.0 346.5L647.7 355.7L648.0 355.8L648.4 354.7L649.1 351.0L650.0 344.3L650.5 353.8L651.0 359.8L651.9 356.5L652.6 353.3L653.0 350.1L654.0 342.2L654.7 338.5L655.0 333.4L655.4 337.6L656.1 343.8L657.0 351.5L657.5 346.4L658.2 341.7L659.0 335.5L659.6 334.6L660.3 330.5L661.0 329.0L661.7 334.3L662.4 340.6L663.0 344.2L664.0 326.1L664.5 330.3L665.2 332.8L665.9 334.2L666.6 337.3L667.0 340.6L668.0 344.4L668.7 344.9L669.4 344.5L670.0 347.7L670.8 347.5L671.5 348.3L672.0 346.5L672.9 344.7L673.6 335.5L674.0 332.6L675.0 331.8L675.7 328.7L676.0 328.6L676.4 332.5L677.1 338.4L678.0 344.1L678.5 342.6L679.2 343.3L680.0 342.0L680.6 340.3L681.3 337.6L682.0 329.0L682.7 335.1L683.4 342.1L684.0 345.5L684.8 339.2L685.5 333.9L686.0 331.4L686.9 336.1L687.6 336.4L688.0 342.6L689.0 326.2L689.7 331.7L690.4 336.5L691.0 342.7L692.0 324.8L692.5 331.6L693.2 330.4L693.9 333.9L694.6 337.0L695.0 337.3L696.0 335.4L696.7 332.3L697.0 330.2L697.4 339.0L698.0 348.8L698.8 343.1L699.5 338.9L700.0 336.6L700.9 342.8L701.6 347.4L702.0 350.5L703.0 343.3L703.7 338.3L704.0 340.2L704.4 339.1L705.1 337.3L706.0 332.6L706.5 336.5L707.2 340.5L708.0 346.0L708.6 347.6L709.3 348.8L710.0 344.9L710.7 346.7L711.0 346.5L711.4 345.2L712.1 341.4L713.0 337.5L713.5 342.3L714.2 348.9L715.0 357.7L715.6 348.2L716.3 340.5L717.0 331.3L717.7 343.0L718.4 351.5L719.0 360.0L719.8 348.9L720.5 336.0L721.0 331.1L722.0 360.1L722.6 350.3L723.3 337.1L724.0 326.6L724.7 346.8L725.0 357.6L725.4 346.4L726.0 324.9L726.8 321.5L727.5 324.6L728.2 325.5L728.6 323.8L729.0 370.2L729.8 372.4L730.5 374.9L731.0 376.3L732.0 372.0L733.0 371.1L733.5 373.8L734.2 373.8L735.0 375.4L735.8 375.2L736.5 373.2L737.2 371.2L738.0 372.1L739.0 371.7L739.5 372.9L740.0 374.7L741.0 374.0L741.8 373.0L742.5 374.4L743.2 372.5L744.0 374.5L745.0 371.9L745.5 371.6L746.2 372.0L747.0 372.2L747.8 372.3L748.5 377.3L749.2 372.9L750.0 375.3L750.8 374.3L751.5 373.3L752.2 374.7L753.0 375.1L753.8 375.7L754.5 378.6L755.2 375.6L756.0 375.9L756.8 376.3L757.5 374.9L758.2 375.9L759.0 376.9L760.0 376.0L760.5 375.3L761.2 377.1L762.0 377.1L762.8 376.3L763.5 377.0L764.2 376.6L765.0 377.6L765.8 377.7L766.5 374.8L767.2 376.0L768.0 377.2L768.8 376.5L769.5 374.1L770.0 374.5L771.0 374.7L771.8 375.6L772.5 375.4L773.2 376.5L774.0 376.4L775.0 377.9L775.5 377.5L776.2 377.0L777.0 375.6L777.8 375.1L778.5 377.5L779.2 375.8L780.0 375.9L780.8 376.3L781.5 377.2L782.2 380.5L783.0 377.0L783.8 381.6L784.5 378.2L785.0 378.2L786.0 381.1L786.8 377.0L787.5 377.1L788.2 378.0L789.0 382.0L790.0 378.9L790.5 378.3L791.2 378.8L792.0 380.7L792.8 380.8L793.5 379.2L794.2 377.9L795.0 378.1L795.8 379.5L796.5 377.8L797.2 378.2L798.0 376.5L798.8 374.2L799.5 376.3L800.0 376.7L801.0 374.9L801.8 374.3L802.5 375.4L803.2 374.7L804.0 370.8L805.0 375.0L805.5 375.0L806.2 376.8L807.0 370.1L807.8 371.5L808.5 372.3L809.2 372.6L810.0 371.3L810.8 369.7L811.5 369.6L812.2 370.5L813.0 370.2L813.8 372.2L814.5 370.0L815.0 370.0L816.0 372.3L816.8 370.1L817.5 367.8L818.2 367.0L819.0 369.9L820.0 369.8L820.5 370.8L821.2 371.3L822.0 371.3L822.8 369.8L823.2 373.1L823.6 340.0L824.4 331.8L825.0 328.8L826.0 327.1L826.4 329.0L827.1 334.1L828.0 332.4L828.5 338.0L829.0 341.6L829.9 348.6L830.6 351.4L831.0 355.1L831.3 348.8L832.0 337.0L832.7 340.5L833.4 340.5L834.0 345.1L835.0 330.0L835.5 334.1L836.2 337.7L837.0 343.7L837.6 343.2L838.3 339.5L839.0 337.4L840.0 329.4L840.4 326.7L841.1 325.5L842.0 321.8L842.5 322.6L843.2 323.3L844.0 323.3L844.6 328.6L845.0 331.2L845.3 331.2L846.0 327.9L847.0 328.2L847.4 333.6L848.0 342.4L848.8 346.4L849.5 348.7L850.0 350.3L850.9 349.1L851.6 347.3L852.0 346.4L852.3 347.4L853.0 346.2L854.0 345.2L854.4 349.2L855.1 344.7L856.0 343.9L856.5 333.6L857.0 323.6L857.9 326.6L858.6 328.4L859.0 330.9L859.3 327.4L860.0 329.0L861.0 322.6L861.4 325.9L862.1 333.4L863.0 345.1L863.5 341.3L864.2 338.7L865.0 330.4L865.6 334.9L866.3 342.8L867.0 345.4L867.7 335.7L868.4 323.8L869.0 315.7L869.8 326.1L870.5 336.8L871.0 345.3L871.9 338.6L872.6 335.6L873.0 333.0L873.3 333.9L874.0 334.7L875.0 345.0L875.4 345.0L876.1 344.9L877.0 345.3L877.5 347.1L878.2 341.7L878.9 337.3L879.6 335.4L880.0 332.8L880.3 336.7L881.0 338.6L882.0 346.3L882.4 342.8L883.1 336.6L884.0 321.0L884.5 325.6L885.2 321.8L885.9 325.7L886.6 325.5L887.0 326.1L887.3 328.2L888.0 332.4L889.0 337.0L889.4 334.9L890.1 331.9L891.0 330.7L891.5 332.5L892.2 332.7L893.0 334.5L893.6 337.5L894.3 338.5L895.0 343.6L895.7 336.1L896.4 327.5L897.0 320.6L897.8 316.7L898.5 320.4L899.2 320.0L900.0 319.5L900.6 315.7L901.3 317.7L902.0 315.9L902.7 321.2L903.4 331.7L904.0 339.4L904.8 332.6L905.5 327.0L906.0 322.5L906.9 334.7L907.6 342.8L908.0 347.9L908.3 344.4L909.0 337.6L910.0 325.1L910.4 329.3L911.1 335.7L912.0 345.8L912.5 346.6L913.2 343.2L914.0 341.2L914.6 334.5L915.3 326.3L916.0 319.6L916.7 328.6L917.4 339.9L918.0 344.9L918.8 338.1L919.5 335.5L920.0 329.1L920.9 335.4L921.6 339.3L922.0 341.0L922.3 338.0L923.0 334.3L924.0 332.1L924.4 336.6L925.1 338.5L926.0 345.4L926.5 341.0L927.2 335.5L927.9 328.8L928.6 323.9L929.0 321.1L929.3 322.7L930.0 330.8L931.0 339.6L931.4 337.2L932.1 334.6L933.0 326.2L933.5 329.0L934.2 336.3L935.0 343.7L935.6 338.6L936.3 329.6L937.0 323.5L937.7 324.6L938.4 323.5L939.0 325.1L940.0 321.5L940.5 321.6L941.2 323.1L942.0 325.4L942.6 324.0L943.3 323.9L944.0 321.0L944.7 321.8L945.4 317.4L946.0 319.7L947.0 313.6L947.5 320.3L948.0 328.7L948.9 325.6L949.6 327.0L950.0 323.3L950.3 325.1L951.0 333.1L952.0 336.9L952.4 334.2L953.1 327.6L954.0 319.4L954.5 320.7L955.2 325.7L956.0 329.1L956.6 322.5L957.0 318.3L957.3 318.0L958.0 322.8L959.0 322.5L959.4 327.3L960.0 338.5L960.8 332.6L961.5 328.2L962.0 325.4L962.9 335.5L963.6 337.9L964.0 340.7L964.3 342.3L965.0 339.0L966.0 343.9L966.4 343.8L967.1 343.9L967.8 342.0L968.5 344.3L969.0 344.6L969.9 345.5L970.6 343.6L971.0 344.3L971.3 343.4L972.0 340.1L972.7 346.2L973.4 347.6L974.0 345.3L974.8 344.8L975.5 344.4L976.2 344.4L977.0 343.8L977.6 337.0L978.3 330.6L979.0 324.1L980.0 315.3L980.4 317.2L981.1 330.6L982.0 336.0L982.5 333.9L983.2 330.0L983.9 326.9L984.6 323.8L985.0 321.3L985.3 325.5L986.0 330.3L987.0 340.2L987.4 341.5L988.1 336.3L989.0 332.9L989.5 331.6L990.0 328.7L990.9 339.0L991.6 346.0L992.0 349.6L992.3 345.0L993.0 343.1L994.0 337.6L994.4 338.7L995.1 341.5L996.0 345.1L996.5 339.4L997.0 330.6L997.9 336.5L998.6 340.3L999.0 343.9L999.3 341.4L1000.0 336.5L1001.0 331.3L1001.4 341.5L1002.0 351.9L1002.8 343.2L1003.5 337.3L1004.0 330.9L1004.9 332.1L1005.6 329.7L1006.0 333.3L1006.3 338.2L1007.0 337.4L1008.0 342.0L1008.4 346.0L1009.1 346.5L1010.0 350.5L1010.5 347.2L1011.2 348.2L1012.0 345.1L1012.6 347.4L1013.3 349.9L1014.0 353.8L1014.7 351.2L1015.4 346.4L1016.1 343.4L1017.0 340.0L1017.5 343.8L1018.2 344.8L1019.0 349.1L1019.6 346.7L1020.0 344.2L1020.3 346.1L1021.0 336.0L1022.0 329.0L1022.4 332.1L1023.1 339.1L1024.0 343.9L1024.5 342.3L1025.2 341.2L1026.0 340.8L1026.6 338.6L1027.3 335.7L1028.0 332.0L1028.7 336.2L1029.4 339.4L1030.0 344.7L1030.8 340.2L1031.5 337.9L1032.2 336.8L1033.0 332.5L1033.6 335.9L1034.3 339.2L1035.0 343.4L1035.7 341.5L1036.4 344.5L1037.1 348.7L1038.0 346.4L1038.5 345.8L1039.2 346.9L1040.0 341.3L1040.6 339.7L1041.3 339.7L1042.0 340.4L1043.0 338.6L1043.4 342.1L1044.1 341.1L1045.0 342.9L1045.5 336.2L1046.2 333.1L1047.0 325.1L1047.6 329.6L1048.3 337.8L1049.0 343.8L1049.7 340.5L1050.4 335.9L1051.0 333.0L1051.8 339.1L1052.5 343.4L1053.0 346.3L1053.9 341.5L1054.6 337.2L1055.0 334.1L1055.3 336.3L1056.0 335.4L1057.0 345.9L1057.4 345.3L1058.1 343.2L1059.0 341.8L1059.5 341.2L1060.0 344.0L1060.9 344.5L1061.6 346.0L1062.0 347.0L1062.3 342.7L1063.0 336.5L1064.0 327.7L1064.4 331.4L1065.1 336.6L1066.0 343.9L1066.5 339.8L1067.2 339.4L1068.0 328.6L1068.6 333.5L1069.3 336.3L1070.0 343.8L1070.7 342.3L1071.4 339.4L1072.1 337.5L1073.0 335.1L1073.5 338.9L1074.2 341.8L1075.0 345.1L1075.6 343.1L1076.3 347.2L1077.0 345.2L1078.0 345.6L1078.4 344.4L1079.1 341.8L1080.0 336.9L1080.5 339.7L1081.2 342.9L1082.0 345.2L1082.6 340.7L1083.3 334.9L1084.0 329.0L1084.7 335.3L1085.4 338.4L1086.0 345.3L1086.8 344.9L1087.5 345.0L1088.0 345.2L1088.9 334.3L1089.6 325.7L1090.0 323.6L1090.3 327.0L1091.0 334.7L1092.0 345.6L1092.4 341.6L1093.1 339.8L1093.8 337.1L1094.5 337.1L1095.0 332.9L1095.9 339.2L1096.6 343.8L1097.0 346.4L1097.3 345.0L1098.0 342.4L1099.0 335.6L1099.4 337.2L1100.1 342.6L1101.0 346.3L1101.5 343.4L1102.2 338.8L1103.0 334.4L1103.6 336.1L1104.3 335.8L1105.0 335.0L1106.0 335.4L1106.4 340.2L1107.1 339.5L1108.0 345.3L1108.5 344.7L1109.2 340.7L1110.0 338.6L1110.6 343.1L1111.3 343.8L1112.0 345.1L1112.7 346.4L1113.4 340.9L1114.1 337.4L1115.0 337.1L1115.5 338.9L1116.2 338.7L1116.9 337.1L1117.6 344.8L1118.0 344.1L1118.3 345.2L1119.0 346.8L1120.0 347.6L1120.4 346.8L1121.1 341.7L1122.0 338.0L1122.5 338.5L1123.2 342.1L1123.9 345.4L1124.6 347.2L1125.0 346.4L1125.3 343.9L1126.0 343.2L1126.7 340.6L1127.4 337.8L1128.0 337.6L1128.8 333.7L1129.5 334.4L1130.2 332.4L1131.0 332.2L1131.6 333.8L1132.3 343.3L1133.0 345.2L1133.7 340.5L1134.4 338.3L1135.1 334.4L1136.0 327.2L1136.5 330.3L1137.2 338.4L1138.0 344.0L1138.6 346.5L1139.3 346.5L1140.0 347.0L1141.0 347.5L1141.4 343.4L1142.1 339.1L1143.0 333.1L1144.0 363.9L1144.8 365.5L1145.5 371.0L1146.0 370.3L1147.0 370.0L1148.0 367.0L1148.5 368.5L1149.2 370.1L1150.0 370.6L1150.8 370.9L1151.5 368.8L1152.2 367.5L1153.0 369.2L1153.8 369.6L1154.5 366.2L1155.0 365.2L1156.0 367.0L1156.8 368.4L1157.5 368.1L1158.0 369.2L1159.0 369.1L1159.8 371.4L1160.5 370.4L1161.0 369.6L1162.0 372.0L1162.8 371.9L1163.5 372.0L1164.0 373.8L1165.0 372.1L1165.8 376.1L1166.5 372.7L1167.0 372.4L1168.0 372.4L1168.8 368.4L1169.5 374.0L1170.0 370.6L1171.0 367.9L1171.8 368.2L1172.5 367.6L1173.0 367.8L1174.0 370.1L1174.8 372.2L1175.5 371.1L1176.0 371.9L1177.0 371.6L1177.8 373.4L1178.5 372.5L1179.0 373.5L1180.0 372.4L1180.8 371.1L1181.5 369.7L1182.0 369.1L1183.0 369.6L1184.0 370.0L1184.5 370.9L1185.2 373.3L1186.0 373.0L1187.0 373.7L1187.5 374.0L1188.2 374.0L1189.0 375.5L1190.0 373.4L1190.5 370.5L1191.0 367.7L1192.0 368.0L1192.8 369.3L1193.5 373.7L1194.0 373.3L1195.0 373.3L1195.8 375.3L1196.5 374.9L1197.0 375.3L1198.0 375.6L1198.8 374.0L1199.5 375.1L1200.0 374.1L1201.0 375.3L1201.8 376.2L1202.5 375.9L1203.2 376.7L1204.0 379.5L1205.0 377.7L1205.5 377.6L1206.2 379.0L1207.0 374.6L1207.8 375.5L1208.5 374.2L1209.2 375.4L1210.0 374.1L1210.8 374.0L1211.5 373.9L1212.2 373.9L1213.0 372.2L1213.8 372.7L1214.5 372.2L1215.2 372.8L1216.0 372.7L1216.8 373.7L1217.5 374.2L1218.0 374.2L1219.0 374.7L1219.8 371.9L1220.5 374.1L1221.2 376.1L1222.0 376.0L1223.0 376.7L1223.5 377.0L1224.2 376.7L1225.0 376.6L1225.8 373.3L1226.5 377.7L1227.2 376.8L1228.0 376.3L1228.8 376.1L1229.5 379.3L1230.2 377.8L1231.0 378.1L1231.8 377.5L1232.5 377.2L1233.0 377.9L1234.0 375.2L1234.8 377.6L1235.5 375.8L1236.2 374.0L1237.0 373.3L1237.8 373.6L1238.5 379.2L1239.2 375.7L1240.0 376.8L1240.8 376.9L1241.5 376.6L1242.2 377.4L1243.0 375.3L1243.8 378.3L1244.5 375.9L1245.0 377.8L1246.0 380.3L1246.8 377.0L1247.5 377.8L1248.2 374.7L1249.0 374.7L1249.8 377.0L1250.5 378.9L1251.2 377.2L1252.0 377.9L1253.0 378.0L1253.5 378.5L1254.2 378.1L1255.0 377.9L1255.8 378.2L1256.5 379.5L1257.2 379.4L1258.0 377.6L1258.8 378.1L1259.5 377.8L1260.2 377.3L1261.0 375.9L1262.0 376.5L1262.5 376.9L1263.2 375.8L1264.0 375.4L1264.8 375.1L1265.5 378.1L1266.2 377.0L1267.0 376.7L1267.8 375.9L1268.5 376.2L1269.2 374.0L1270.0 374.4L1270.8 374.9L1271.5 375.0L1272.2 375.5L1273.0 377.6L1274.0 378.1L1274.5 379.0L1275.2 376.7L1276.0 378.1L1276.8 376.2L1277.5 376.8L1278.2 377.9L1279.0 379.0L1279.8 375.7L1280.5 381.6L1281.2 378.0L1282.0 382.5L1282.8 380.8L1283.5 378.9L1284.0 381.3L1285.0 380.8L1285.8 382.0L1286.5 381.4L1287.2 381.2L1288.0 381.3L1289.0 381.7L1289.5 381.3L1290.2 380.9L1291.0 383.9L1291.8 384.7L1292.5 379.4L1293.2 380.3L1294.0 381.3L1294.8 381.1L1295.5 379.6L1296.2 381.5L1297.0 382.4L1298.0 382.5L1298.5 379.4L1299.2 378.9L1300.0 380.9L1300.8 381.3L1301.5 381.1L1302.2 382.0L1303.0 381.0L1303.8 381.4L1304.5 382.3L1305.2 381.9L1306.0 383.2L1306.8 381.9L1307.5 382.1L1308.0 382.8L1309.0 381.6L1309.8 381.9L1310.5 382.0L1311.2 382.5L1312.0 382.7L1313.0 384.3L1313.5 380.2L1314.2 383.0L1315.0 382.7L1315.8 383.7L1316.5 383.6L1317.2 380.6L1318.0 384.2L1318.8 382.2L1319.5 382.7L1320.2 383.0L1321.0 382.3L1321.8 382.2L1322.5 384.3L1323.0 382.2L1324.0 383.3L1324.8 382.3L1325.5 383.2L1326.2 382.5L1327.0 383.2L1328.0 382.8" stroke="#008000" stroke-width="2.4" stroke-linecap="square"/>
</g>
<rect x="88" y="42" width="1241" height="494" fill="none" stroke="none"/>
<path d="M88.5 42.5 H1328.5 V535.5 H88.5 Z" fill="none" stroke="#000" stroke-width="1.11" stroke-linecap="square"/>
<rect x="82" y="117" width="6" height="2" fill="#ff0000"/>
<rect x="82" y="207" width="6" height="2" fill="#ff0000"/>
<rect x="82" y="297" width="6" height="2" fill="#ff0000"/>
<rect x="82" y="387" width="6" height="2" fill="#ff0000"/>
<rect x="82" y="478" width="6" height="2" fill="#ff0000"/>
<rect x="88" y="536" width="1" height="5" fill="#000"/>
<rect x="243" y="536" width="1" height="5" fill="#000"/>
<rect x="398" y="536" width="1" height="5" fill="#000"/>
<rect x="553" y="536" width="1" height="5" fill="#000"/>
<rect x="708" y="536" width="1" height="5" fill="#000"/>
<rect x="863" y="536" width="1" height="5" fill="#000"/>
<rect x="1018" y="536" width="1" height="5" fill="#000"/>
<rect x="1173" y="536" width="1" height="5" fill="#000"/>
<rect x="95.5" y="398.5" width="245.5" height="130" rx="2.8" ry="2.8" fill="#ffffff" fill-opacity="0.8" stroke="#cccccc" stroke-width="1.11"/>
<line x1="99" y1="409.9" x2="129" y2="409.9" stroke="#ff0000" stroke-width="2.08"/>
<line x1="99.9" y1="430.7" x2="129" y2="430.7" stroke="#f08080" stroke-width="2.08" stroke-dasharray="2.08 3.44"/>
<line x1="99" y1="451.6" x2="129" y2="451.6" stroke="#008000" stroke-width="2.08"/>
<line x1="99.5" y1="472.4" x2="129" y2="472.4" stroke="#d2b48c" stroke-width="2.08" stroke-dasharray="7.7 3.33"/>
<line x1="99.5" y1="493.3" x2="129" y2="493.3" stroke="#808080" stroke-width="2.08" stroke-dasharray="7.7 3.33"/>
<line x1="99" y1="514.1" x2="129" y2="514.1" stroke="#808080" stroke-width="2.08"/>
<text id="title" x="386.95" y="33.8" font-family='"Liberation Sans", sans-serif' font-size="17.6" fill="#000" textLength="641.07" lengthAdjust="spacingAndGlyphs">Powerline Noise vs Noise Floor, 2026-02-13 (America/Los_Angeles Timezone)</text>
<text id="y40" x="48.80" y="124.0" font-family='"Liberation Sans", sans-serif' font-size="13.9" fill="#ff0000" textLength="28.29" lengthAdjust="spacingAndGlyphs">−40</text>
<text id="y60" x="48.80" y="214.0" font-family='"Liberation Sans", sans-serif' font-size="13.9" fill="#ff0000" textLength="28.29" lengthAdjust="spacingAndGlyphs">−60</text>
<text id="y80" x="48.80" y="304.0" font-family='"Liberation Sans", sans-serif' font-size="13.9" fill="#ff0000" textLength="28.29" lengthAdjust="spacingAndGlyphs">−80</text>
<text id="y100" x="39.83" y="394.0" font-family='"Liberation Sans", sans-serif' font-size="13.9" fill="#ff0000" textLength="36.72" lengthAdjust="spacingAndGlyphs">−100</text>
<text id="y120" x="39.83" y="485.0" font-family='"Liberation Sans", sans-serif' font-size="13.9" fill="#ff0000" textLength="36.72" lengthAdjust="spacingAndGlyphs">−120</text>
<text id="x0" x="69.69" y="555.6" font-family='"Liberation Sans", sans-serif' font-size="13.9" fill="#000" textLength="37.94" lengthAdjust="spacingAndGlyphs">00:00</text>
<text id="x1" x="224.69" y="555.6" font-family='"Liberation Sans", sans-serif' font-size="13.9" fill="#000" textLength="37.94" lengthAdjust="spacingAndGlyphs">03:00</text>
<text id="x2" x="379.69" y="555.6" font-family='"Liberation Sans", sans-serif' font-size="13.9" fill="#000" textLength="37.94" lengthAdjust="spacingAndGlyphs">06:00</text>
<text id="x3" x="534.69" y="555.6" font-family='"Liberation Sans", sans-serif' font-size="13.9" fill="#000" textLength="37.94" lengthAdjust="spacingAndGlyphs">09:00</text>
<text id="x4" x="688.56" y="555.6" font-family='"Liberation Sans", sans-serif' font-size="13.9" fill="#000" textLength="39.08" lengthAdjust="spacingAndGlyphs">12:00</text>
<text id="x5" x="843.56" y="555.6" font-family='"Liberation Sans", sans-serif' font-size="13.9" fill="#000" textLength="39.08" lengthAdjust="spacingAndGlyphs">15:00</text>
<text id="x6" x="998.56" y="555.6" font-family='"Liberation Sans", sans-serif' font-size="13.9" fill="#000" textLength="39.08" lengthAdjust="spacingAndGlyphs">18:00</text>
<text id="x7" x="1154.69" y="555.6" font-family='"Liberation Sans", sans-serif' font-size="13.9" fill="#000" textLength="37.94" lengthAdjust="spacingAndGlyphs">21:00</text>
<text id="time" x="690.79" y="574.7" font-family='"Liberation Sans", sans-serif' font-size="13.9" fill="#000" textLength="33.80" lengthAdjust="spacingAndGlyphs">Time</text>
<text id="leg0" x="139.52" y="415.1" font-family='"Liberation Sans", sans-serif' font-size="13.9" fill="#000" textLength="86.61" lengthAdjust="spacingAndGlyphs">120pps dBm</text>
<text id="leg1" x="139.36" y="435.94" font-family='"Liberation Sans", sans-serif' font-size="13.9" fill="#000" textLength="166.31" lengthAdjust="spacingAndGlyphs">est 120pps dBm at 10m</text>
<text id="leg2" x="138.69" y="456.78000000000003" font-family='"Liberation Sans", sans-serif' font-size="13.9" fill="#000" textLength="113.70" lengthAdjust="spacingAndGlyphs">Noise Floor dBm</text>
<text id="leg3" x="138.01" y="477.62" font-family='"Liberation Sans", sans-serif' font-size="13.9" fill="#000" textLength="196.42" lengthAdjust="spacingAndGlyphs">S9 (-73dBm) signal strength</text>
<text id="leg4" x="139.15" y="498.46000000000004" font-family='"Liberation Sans", sans-serif' font-size="13.9" fill="#000" textLength="129.00" lengthAdjust="spacingAndGlyphs">-90 dBm threshold</text>
<text id="leg5" x="139.14" y="519.3000000000001" font-family='"Liberation Sans", sans-serif' font-size="13.9" fill="#000" textLength="195.26" lengthAdjust="spacingAndGlyphs">-100 dBm typical noise floor</text>
<text id="dbm" x="0" y="0" font-family='"Liberation Sans", sans-serif' font-size="13.9" fill="#ff0000" text-anchor="middle" textLength="29.5" lengthAdjust="spacingAndGlyphs" transform="translate(30.6 290.3) rotate(-90)">dBm</text>
</svg></body></html>
